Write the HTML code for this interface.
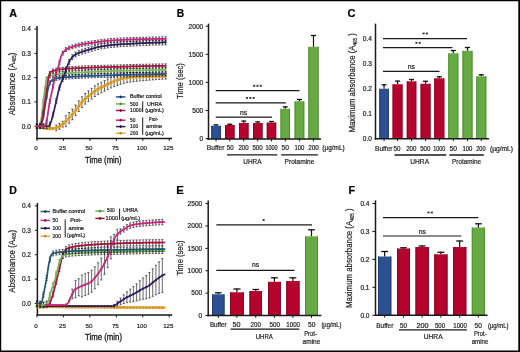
<!DOCTYPE html>
<html><head><meta charset="utf-8"><style>
html,body{margin:0;padding:0;background:#fff;}
svg{display:block;}
text{font-family:"Liberation Sans", sans-serif;}
svg{will-change:transform;}
</style></head><body>
<svg width="520" height="352" viewBox="0 0 520 352">
<rect width="520" height="352" fill="#fff"/>
<rect x="0" y="0" width="520" height="1.25" fill="#000"/>
<rect x="0" y="0" width="1.2" height="352" fill="#000"/>
<rect x="0" y="350.5" width="520" height="1.5" fill="#000"/>
<rect x="518.3" y="0" width="1.7" height="352" fill="#000"/>
<text x="9.2" y="16.7" font-size="11.29" stroke="#000" stroke-width="0.2" textLength="7.8" lengthAdjust="spacingAndGlyphs" font-weight="bold" fill="#000">A</text>
<text x="176.8" y="16.5" font-size="10.29" stroke="#000" stroke-width="0.2" textLength="7.4" lengthAdjust="spacingAndGlyphs" font-weight="bold" fill="#000">B</text>
<text x="347.5" y="17" font-size="10.29" stroke="#000" stroke-width="0.2" textLength="8" lengthAdjust="spacingAndGlyphs" font-weight="bold" fill="#000">C</text>
<text x="9.2" y="193.5" font-size="10.71" stroke="#000" stroke-width="0.2" textLength="7.6" lengthAdjust="spacingAndGlyphs" font-weight="bold" fill="#000">D</text>
<text x="176.2" y="193.5" font-size="10.71" stroke="#000" stroke-width="0.2" textLength="7.6" lengthAdjust="spacingAndGlyphs" font-weight="bold" fill="#000">E</text>
<text x="348.6" y="193.8" font-size="11.14" stroke="#000" stroke-width="0.2" textLength="6.6" lengthAdjust="spacingAndGlyphs" font-weight="bold" fill="#000">F</text>
<line x1="208.5" y1="23.6" x2="208.5" y2="139.75" stroke="#1a1a1a" stroke-width="1.5"/>
<line x1="205.6" y1="138.6" x2="208.5" y2="138.6" stroke="#1a1a1a" stroke-width="1.0"/>
<text x="203.2" y="140.9" font-size="6.57" stroke="#222" stroke-width="0.2" text-anchor="end" fill="#222">0</text>
<line x1="205.6" y1="110.5" x2="208.5" y2="110.5" stroke="#1a1a1a" stroke-width="1.0"/>
<text x="203.2" y="112.8" font-size="6.57" stroke="#222" stroke-width="0.2" text-anchor="end" fill="#222">500</text>
<line x1="205.6" y1="82.4" x2="208.5" y2="82.4" stroke="#1a1a1a" stroke-width="1.0"/>
<text x="203.2" y="84.7" font-size="6.57" stroke="#222" stroke-width="0.2" text-anchor="end" fill="#222">1000</text>
<line x1="205.6" y1="54.3" x2="208.5" y2="54.3" stroke="#1a1a1a" stroke-width="1.0"/>
<text x="203.2" y="56.6" font-size="6.57" stroke="#222" stroke-width="0.2" text-anchor="end" fill="#222">1500</text>
<line x1="205.6" y1="26.2" x2="208.5" y2="26.2" stroke="#1a1a1a" stroke-width="1.0"/>
<text x="203.2" y="28.5" font-size="6.57" stroke="#222" stroke-width="0.2" text-anchor="end" fill="#222">2000</text>
<rect x="211.3" y="125.8" width="9.5" height="13.2" fill="#2b5192"/>
<rect x="211.3" y="125.8" width="0.9" height="13.2" fill="#1c3a6e"/>
<rect x="219.9" y="125.8" width="0.9" height="13.2" fill="#1c3a6e"/>
<line x1="216.05" y1="124.4" x2="216.05" y2="125.8" stroke="#111" stroke-width="1.2"/>
<line x1="213.58" y1="124.9" x2="218.52" y2="124.9" stroke="#111" stroke-width="1.3"/>
<rect x="225" y="125" width="9.5" height="14" fill="#b4032d"/>
<rect x="225" y="125" width="0.9" height="14" fill="#82061f"/>
<rect x="233.6" y="125" width="0.9" height="14" fill="#82061f"/>
<line x1="229.75" y1="123.8" x2="229.75" y2="125" stroke="#111" stroke-width="1.2"/>
<line x1="227.28" y1="124.3" x2="232.22" y2="124.3" stroke="#111" stroke-width="1.3"/>
<rect x="239" y="123" width="9.5" height="16" fill="#b4032d"/>
<rect x="239" y="123" width="0.9" height="16" fill="#82061f"/>
<rect x="247.6" y="123" width="0.9" height="16" fill="#82061f"/>
<line x1="243.75" y1="120.6" x2="243.75" y2="123" stroke="#111" stroke-width="1.2"/>
<line x1="241.28" y1="121.1" x2="246.22" y2="121.1" stroke="#111" stroke-width="1.3"/>
<rect x="253" y="123" width="9.5" height="16" fill="#b4032d"/>
<rect x="253" y="123" width="0.9" height="16" fill="#82061f"/>
<rect x="261.6" y="123" width="0.9" height="16" fill="#82061f"/>
<line x1="257.75" y1="121.4" x2="257.75" y2="123" stroke="#111" stroke-width="1.2"/>
<line x1="255.28" y1="121.9" x2="260.22" y2="121.9" stroke="#111" stroke-width="1.3"/>
<rect x="266.8" y="122.5" width="9.4" height="16.5" fill="#b4032d"/>
<rect x="266.8" y="122.5" width="0.9" height="16.5" fill="#82061f"/>
<rect x="275.3" y="122.5" width="0.9" height="16.5" fill="#82061f"/>
<line x1="271.5" y1="121" x2="271.5" y2="122.5" stroke="#111" stroke-width="1.2"/>
<line x1="269.06" y1="121.5" x2="273.94" y2="121.5" stroke="#111" stroke-width="1.3"/>
<rect x="280.5" y="108.8" width="9.5" height="30.2" fill="#67a943"/>
<rect x="280.5" y="108.8" width="0.9" height="30.2" fill="#4d8a33"/>
<rect x="289.1" y="108.8" width="0.9" height="30.2" fill="#4d8a33"/>
<line x1="285.25" y1="106.4" x2="285.25" y2="108.8" stroke="#111" stroke-width="1.2"/>
<line x1="282.78" y1="106.9" x2="287.72" y2="106.9" stroke="#111" stroke-width="1.3"/>
<rect x="294.6" y="101.3" width="9.7" height="37.7" fill="#67a943"/>
<rect x="294.6" y="101.3" width="0.9" height="37.7" fill="#4d8a33"/>
<rect x="303.4" y="101.3" width="0.9" height="37.7" fill="#4d8a33"/>
<line x1="299.45" y1="99" x2="299.45" y2="101.3" stroke="#111" stroke-width="1.2"/>
<line x1="296.93" y1="99.5" x2="301.97" y2="99.5" stroke="#111" stroke-width="1.3"/>
<rect x="308.4" y="46.8" width="10.2" height="92.2" fill="#67a943"/>
<rect x="308.4" y="46.8" width="0.9" height="92.2" fill="#4d8a33"/>
<rect x="317.7" y="46.8" width="0.9" height="92.2" fill="#4d8a33"/>
<line x1="313.5" y1="35" x2="313.5" y2="46.8" stroke="#111" stroke-width="1.2"/>
<line x1="310.85" y1="35.5" x2="316.15" y2="35.5" stroke="#111" stroke-width="1.3"/>
<line x1="207.25" y1="139" x2="321" y2="139" stroke="#1a1a1a" stroke-width="1.5"/>
<line x1="216.05" y1="139" x2="216.05" y2="141.4" stroke="#1a1a1a" stroke-width="1.0"/>
<line x1="229.75" y1="139" x2="229.75" y2="141.4" stroke="#1a1a1a" stroke-width="1.0"/>
<line x1="243.75" y1="139" x2="243.75" y2="141.4" stroke="#1a1a1a" stroke-width="1.0"/>
<line x1="257.75" y1="139" x2="257.75" y2="141.4" stroke="#1a1a1a" stroke-width="1.0"/>
<line x1="271.5" y1="139" x2="271.5" y2="141.4" stroke="#1a1a1a" stroke-width="1.0"/>
<line x1="285.25" y1="139" x2="285.25" y2="141.4" stroke="#1a1a1a" stroke-width="1.0"/>
<line x1="299.45" y1="139" x2="299.45" y2="141.4" stroke="#1a1a1a" stroke-width="1.0"/>
<line x1="313.5" y1="139" x2="313.5" y2="141.4" stroke="#1a1a1a" stroke-width="1.0"/>
<line x1="215.7" y1="90.6" x2="299.5" y2="90.6" stroke="#1a1a1a" stroke-width="1.2"/>
<path d="M253.1,85.8H255.3M253.6,84.8L254.8,86.8M254.8,84.8L253.6,86.8" stroke="#1a1a1a" stroke-width="0.75"/>
<path d="M256.4,85.8H258.6M256.9,84.8L258.1,86.8M258.1,84.8L256.9,86.8" stroke="#1a1a1a" stroke-width="0.75"/>
<path d="M259.7,85.8H261.9M260.2,84.8L261.4,86.8M261.4,84.8L260.2,86.8" stroke="#1a1a1a" stroke-width="0.75"/>
<line x1="215.7" y1="102.8" x2="285.8" y2="102.8" stroke="#1a1a1a" stroke-width="1.2"/>
<path d="M245.9,98H248.1M246.4,97L247.6,99M247.6,97L246.4,99" stroke="#1a1a1a" stroke-width="0.75"/>
<path d="M249.2,98H251.4M249.7,97L250.9,99M250.9,97L249.7,99" stroke="#1a1a1a" stroke-width="0.75"/>
<path d="M252.5,98H254.7M253,97L254.2,99M254.2,97L253,99" stroke="#1a1a1a" stroke-width="0.75"/>
<line x1="215.7" y1="117.2" x2="272" y2="117.2" stroke="#1a1a1a" stroke-width="1.2"/>
<text x="243.7" y="115.2" font-size="6.8" stroke="#222" stroke-width="0.2" text-anchor="middle" fill="#222">ns</text>
<text x="206.8" y="150.25" font-size="6.71" stroke="#222" stroke-width="0.2" textLength="17.6" lengthAdjust="spacingAndGlyphs" fill="#222">Buffer</text>
<text x="226.8" y="150.25" font-size="6.71" stroke="#222" stroke-width="0.2" textLength="6.8" lengthAdjust="spacingAndGlyphs" fill="#222">50</text>
<text x="238.4" y="150.25" font-size="6.71" stroke="#222" stroke-width="0.2" textLength="10.2" lengthAdjust="spacingAndGlyphs" fill="#222">200</text>
<text x="252.4" y="150.25" font-size="6.71" stroke="#222" stroke-width="0.2" textLength="10.2" lengthAdjust="spacingAndGlyphs" fill="#222">500</text>
<text x="265.4" y="150.25" font-size="6.71" stroke="#222" stroke-width="0.2" textLength="12.2" lengthAdjust="spacingAndGlyphs" fill="#222">1000</text>
<text x="281.6" y="150.25" font-size="6.71" stroke="#222" stroke-width="0.2" textLength="7.4" lengthAdjust="spacingAndGlyphs" fill="#222">50</text>
<text x="294.4" y="150.25" font-size="6.71" stroke="#222" stroke-width="0.2" textLength="10" lengthAdjust="spacingAndGlyphs" fill="#222">100</text>
<text x="308.2" y="150.25" font-size="6.71" stroke="#222" stroke-width="0.2" textLength="10.5" lengthAdjust="spacingAndGlyphs" fill="#222">200</text>
<text x="322.3" y="150.25" font-size="6.71" stroke="#222" stroke-width="0.2" textLength="22.4" lengthAdjust="spacingAndGlyphs" fill="#222">(µg/mL)</text>
<line x1="227" y1="154.9" x2="277.3" y2="154.9" stroke="#1a1a1a" stroke-width="1.3"/>
<line x1="281.2" y1="154.9" x2="317.9" y2="154.9" stroke="#1a1a1a" stroke-width="1.3"/>
<text x="243.3" y="163.7" font-size="7.14" stroke="#222" stroke-width="0.2" textLength="18.2" lengthAdjust="spacingAndGlyphs" fill="#222">UHRA</text>
<text x="284.6" y="163.7" font-size="7.14" stroke="#222" stroke-width="0.2" textLength="29.8" lengthAdjust="spacingAndGlyphs" fill="#222">Protamine</text>
<text x="183" y="81" font-size="9.2" stroke="#222" stroke-width="0.2" textLength="35.8" lengthAdjust="spacingAndGlyphs" text-anchor="middle" transform="rotate(-90 183 81)" fill="#222">Time (sec)</text>
<line x1="375.5" y1="23.6" x2="375.5" y2="139.5" stroke="#1a1a1a" stroke-width="1.5"/>
<text x="371.9" y="141.05" font-size="6.57" stroke="#222" stroke-width="0.2" text-anchor="end" fill="#222">0.0</text>
<text x="371.9" y="116.05" font-size="6.57" stroke="#222" stroke-width="0.2" text-anchor="end" fill="#222">0.1</text>
<text x="371.9" y="91.05" font-size="6.57" stroke="#222" stroke-width="0.2" text-anchor="end" fill="#222">0.2</text>
<text x="371.9" y="66.05" font-size="6.57" stroke="#222" stroke-width="0.2" text-anchor="end" fill="#222">0.3</text>
<text x="371.9" y="41.05" font-size="6.57" stroke="#222" stroke-width="0.2" text-anchor="end" fill="#222">0.4</text>
<rect x="379.3" y="88.75" width="9.5" height="50" fill="#2b5192"/>
<rect x="379.3" y="88.75" width="0.9" height="50" fill="#1c3a6e"/>
<rect x="387.9" y="88.75" width="0.9" height="50" fill="#1c3a6e"/>
<line x1="384.05" y1="84.3" x2="384.05" y2="88.75" stroke="#111" stroke-width="1.2"/>
<line x1="381.58" y1="84.8" x2="386.52" y2="84.8" stroke="#111" stroke-width="1.3"/>
<rect x="392.6" y="84.3" width="9.9" height="54.45" fill="#b4032d"/>
<rect x="392.6" y="84.3" width="0.9" height="54.45" fill="#82061f"/>
<rect x="401.6" y="84.3" width="0.9" height="54.45" fill="#82061f"/>
<line x1="397.55" y1="80.6" x2="397.55" y2="84.3" stroke="#111" stroke-width="1.2"/>
<line x1="394.98" y1="81.1" x2="400.12" y2="81.1" stroke="#111" stroke-width="1.3"/>
<rect x="406.8" y="81.3" width="9.5" height="57.45" fill="#b4032d"/>
<rect x="406.8" y="81.3" width="0.9" height="57.45" fill="#82061f"/>
<rect x="415.4" y="81.3" width="0.9" height="57.45" fill="#82061f"/>
<line x1="411.55" y1="79" x2="411.55" y2="81.3" stroke="#111" stroke-width="1.2"/>
<line x1="409.08" y1="79.5" x2="414.02" y2="79.5" stroke="#111" stroke-width="1.3"/>
<rect x="420.6" y="83.8" width="9.9" height="54.95" fill="#b4032d"/>
<rect x="420.6" y="83.8" width="0.9" height="54.95" fill="#82061f"/>
<rect x="429.6" y="83.8" width="0.9" height="54.95" fill="#82061f"/>
<line x1="425.55" y1="80.8" x2="425.55" y2="83.8" stroke="#111" stroke-width="1.2"/>
<line x1="422.98" y1="81.3" x2="428.12" y2="81.3" stroke="#111" stroke-width="1.3"/>
<rect x="434.3" y="78.3" width="10" height="60.45" fill="#b4032d"/>
<rect x="434.3" y="78.3" width="0.9" height="60.45" fill="#82061f"/>
<rect x="443.4" y="78.3" width="0.9" height="60.45" fill="#82061f"/>
<line x1="439.3" y1="76.3" x2="439.3" y2="78.3" stroke="#111" stroke-width="1.2"/>
<line x1="436.7" y1="76.8" x2="441.9" y2="76.8" stroke="#111" stroke-width="1.3"/>
<rect x="448.3" y="53.3" width="10" height="85.45" fill="#67a943"/>
<rect x="448.3" y="53.3" width="0.9" height="85.45" fill="#4d8a33"/>
<rect x="457.4" y="53.3" width="0.9" height="85.45" fill="#4d8a33"/>
<line x1="453.3" y1="50" x2="453.3" y2="53.3" stroke="#111" stroke-width="1.2"/>
<line x1="450.7" y1="50.5" x2="455.9" y2="50.5" stroke="#111" stroke-width="1.3"/>
<rect x="462.5" y="50.8" width="10" height="87.95" fill="#67a943"/>
<rect x="462.5" y="50.8" width="0.9" height="87.95" fill="#4d8a33"/>
<rect x="471.6" y="50.8" width="0.9" height="87.95" fill="#4d8a33"/>
<line x1="467.5" y1="47" x2="467.5" y2="50.8" stroke="#111" stroke-width="1.2"/>
<line x1="464.9" y1="47.5" x2="470.1" y2="47.5" stroke="#111" stroke-width="1.3"/>
<rect x="476.3" y="76.3" width="10" height="62.45" fill="#67a943"/>
<rect x="476.3" y="76.3" width="0.9" height="62.45" fill="#4d8a33"/>
<rect x="485.4" y="76.3" width="0.9" height="62.45" fill="#4d8a33"/>
<line x1="481.3" y1="74.3" x2="481.3" y2="76.3" stroke="#111" stroke-width="1.2"/>
<line x1="478.7" y1="74.8" x2="483.9" y2="74.8" stroke="#111" stroke-width="1.3"/>
<line x1="374.55" y1="138.75" x2="489" y2="138.75" stroke="#1a1a1a" stroke-width="1.5"/>
<line x1="384.05" y1="138.75" x2="384.05" y2="141.15" stroke="#1a1a1a" stroke-width="1.0"/>
<line x1="397.55" y1="138.75" x2="397.55" y2="141.15" stroke="#1a1a1a" stroke-width="1.0"/>
<line x1="411.55" y1="138.75" x2="411.55" y2="141.15" stroke="#1a1a1a" stroke-width="1.0"/>
<line x1="425.55" y1="138.75" x2="425.55" y2="141.15" stroke="#1a1a1a" stroke-width="1.0"/>
<line x1="439.3" y1="138.75" x2="439.3" y2="141.15" stroke="#1a1a1a" stroke-width="1.0"/>
<line x1="453.3" y1="138.75" x2="453.3" y2="141.15" stroke="#1a1a1a" stroke-width="1.0"/>
<line x1="467.5" y1="138.75" x2="467.5" y2="141.15" stroke="#1a1a1a" stroke-width="1.0"/>
<line x1="481.3" y1="138.75" x2="481.3" y2="141.15" stroke="#1a1a1a" stroke-width="1.0"/>
<line x1="383" y1="38.6" x2="467" y2="38.6" stroke="#1a1a1a" stroke-width="1.2"/>
<path d="M422.45,33.5H424.65M422.95,32.5L424.15,34.5M424.15,32.5L422.95,34.5" stroke="#1a1a1a" stroke-width="0.75"/>
<path d="M425.75,33.5H427.95M426.25,32.5L427.45,34.5M427.45,32.5L426.25,34.5" stroke="#1a1a1a" stroke-width="0.75"/>
<line x1="383" y1="47.7" x2="452.5" y2="47.7" stroke="#1a1a1a" stroke-width="1.2"/>
<path d="M415.35,42.8H417.55M415.85,41.8L417.05,43.8M417.05,41.8L415.85,43.8" stroke="#1a1a1a" stroke-width="0.75"/>
<path d="M418.65,42.8H420.85M419.15,41.8L420.35,43.8M420.35,41.8L419.15,43.8" stroke="#1a1a1a" stroke-width="0.75"/>
<line x1="383" y1="71.4" x2="439.5" y2="71.4" stroke="#1a1a1a" stroke-width="1.2"/>
<text x="411.4" y="69" font-size="6.8" stroke="#222" stroke-width="0.2" text-anchor="middle" fill="#222">ns</text>
<text x="375" y="150.85" font-size="6.71" stroke="#222" stroke-width="0.2" textLength="17.5" lengthAdjust="spacingAndGlyphs" fill="#222">Buffer</text>
<text x="393.6" y="150.85" font-size="6.71" stroke="#222" stroke-width="0.2" textLength="7" lengthAdjust="spacingAndGlyphs" fill="#222">50</text>
<text x="406.2" y="150.85" font-size="6.71" stroke="#222" stroke-width="0.2" textLength="10.2" lengthAdjust="spacingAndGlyphs" fill="#222">200</text>
<text x="420.2" y="150.85" font-size="6.71" stroke="#222" stroke-width="0.2" textLength="10.2" lengthAdjust="spacingAndGlyphs" fill="#222">500</text>
<text x="433.2" y="150.85" font-size="6.71" stroke="#222" stroke-width="0.2" textLength="12.2" lengthAdjust="spacingAndGlyphs" fill="#222">1000</text>
<text x="449.6" y="150.85" font-size="6.71" stroke="#222" stroke-width="0.2" textLength="7.4" lengthAdjust="spacingAndGlyphs" fill="#222">50</text>
<text x="462.4" y="150.85" font-size="6.71" stroke="#222" stroke-width="0.2" textLength="10" lengthAdjust="spacingAndGlyphs" fill="#222">100</text>
<text x="476.2" y="150.85" font-size="6.71" stroke="#222" stroke-width="0.2" textLength="9.4" lengthAdjust="spacingAndGlyphs" fill="#222">200</text>
<text x="490" y="150.85" font-size="6.71" stroke="#222" stroke-width="0.2" textLength="23" lengthAdjust="spacingAndGlyphs" fill="#222">(µg/mL)</text>
<line x1="394.5" y1="155" x2="446.2" y2="155" stroke="#1a1a1a" stroke-width="1.3"/>
<line x1="449.3" y1="155" x2="483.8" y2="155" stroke="#1a1a1a" stroke-width="1.3"/>
<text x="410.3" y="164" font-size="7.14" stroke="#222" stroke-width="0.2" textLength="18.8" lengthAdjust="spacingAndGlyphs" fill="#222">UHRA</text>
<text x="452.1" y="164" font-size="7.14" stroke="#222" stroke-width="0.2" textLength="28.9" lengthAdjust="spacingAndGlyphs" fill="#222">Protamine</text>
<text x="355.5" y="82.8" font-size="8.3" stroke="#222" stroke-width="0.2" textLength="99.4" lengthAdjust="spacingAndGlyphs" text-anchor="middle" transform="rotate(-90 355.5 82.8)" fill="#222">Maximum absorbance (A<tspan font-size="4.8" dy="1.5">405</tspan><tspan dy="-1.5"> )</tspan></text>
<line x1="208.2" y1="200.6" x2="208.2" y2="316.25" stroke="#1a1a1a" stroke-width="1.5"/>
<line x1="205.4" y1="315.5" x2="208.2" y2="315.5" stroke="#1a1a1a" stroke-width="1.0"/>
<text x="202.2" y="317.8" font-size="6.57" stroke="#222" stroke-width="0.2" text-anchor="end" fill="#222">0</text>
<line x1="205.4" y1="293.12" x2="208.2" y2="293.12" stroke="#1a1a1a" stroke-width="1.0"/>
<text x="202.2" y="295.42" font-size="6.57" stroke="#222" stroke-width="0.2" text-anchor="end" fill="#222">500</text>
<line x1="205.4" y1="270.74" x2="208.2" y2="270.74" stroke="#1a1a1a" stroke-width="1.0"/>
<text x="202.2" y="273.04" font-size="6.57" stroke="#222" stroke-width="0.2" text-anchor="end" fill="#222">1000</text>
<line x1="205.4" y1="248.36" x2="208.2" y2="248.36" stroke="#1a1a1a" stroke-width="1.0"/>
<text x="202.2" y="250.66" font-size="6.57" stroke="#222" stroke-width="0.2" text-anchor="end" fill="#222">1500</text>
<line x1="205.4" y1="225.98" x2="208.2" y2="225.98" stroke="#1a1a1a" stroke-width="1.0"/>
<text x="202.2" y="228.28" font-size="6.57" stroke="#222" stroke-width="0.2" text-anchor="end" fill="#222">2000</text>
<line x1="205.4" y1="203.6" x2="208.2" y2="203.6" stroke="#1a1a1a" stroke-width="1.0"/>
<text x="202.2" y="205.9" font-size="6.57" stroke="#222" stroke-width="0.2" text-anchor="end" fill="#222">2500</text>
<rect x="212" y="294.3" width="12.5" height="21.2" fill="#2b5192"/>
<rect x="212" y="294.3" width="0.9" height="21.2" fill="#1c3a6e"/>
<rect x="223.6" y="294.3" width="0.9" height="21.2" fill="#1c3a6e"/>
<line x1="218.25" y1="292.3" x2="218.25" y2="294.3" stroke="#111" stroke-width="1.2"/>
<line x1="215" y1="292.8" x2="221.5" y2="292.8" stroke="#111" stroke-width="1.3"/>
<rect x="230" y="292.3" width="13.8" height="23.2" fill="#b4032d"/>
<rect x="230" y="292.3" width="0.9" height="23.2" fill="#82061f"/>
<rect x="242.9" y="292.3" width="0.9" height="23.2" fill="#82061f"/>
<line x1="236.9" y1="288.5" x2="236.9" y2="292.3" stroke="#111" stroke-width="1.2"/>
<line x1="233.31" y1="289" x2="240.49" y2="289" stroke="#111" stroke-width="1.3"/>
<rect x="249.5" y="291" width="12.5" height="24.5" fill="#b4032d"/>
<rect x="249.5" y="291" width="0.9" height="24.5" fill="#82061f"/>
<rect x="261.1" y="291" width="0.9" height="24.5" fill="#82061f"/>
<line x1="255.75" y1="289" x2="255.75" y2="291" stroke="#111" stroke-width="1.2"/>
<line x1="252.5" y1="289.5" x2="259" y2="289.5" stroke="#111" stroke-width="1.3"/>
<rect x="268" y="281.8" width="12.8" height="33.7" fill="#b4032d"/>
<rect x="268" y="281.8" width="0.9" height="33.7" fill="#82061f"/>
<rect x="279.9" y="281.8" width="0.9" height="33.7" fill="#82061f"/>
<line x1="274.4" y1="277.3" x2="274.4" y2="281.8" stroke="#111" stroke-width="1.2"/>
<line x1="271.07" y1="277.8" x2="277.73" y2="277.8" stroke="#111" stroke-width="1.3"/>
<rect x="286.3" y="281" width="13.2" height="34.5" fill="#b4032d"/>
<rect x="286.3" y="281" width="0.9" height="34.5" fill="#82061f"/>
<rect x="298.6" y="281" width="0.9" height="34.5" fill="#82061f"/>
<line x1="292.9" y1="277.3" x2="292.9" y2="281" stroke="#111" stroke-width="1.2"/>
<line x1="289.47" y1="277.8" x2="296.33" y2="277.8" stroke="#111" stroke-width="1.3"/>
<rect x="305" y="236.3" width="13" height="79.2" fill="#67a943"/>
<rect x="305" y="236.3" width="0.9" height="79.2" fill="#4d8a33"/>
<rect x="317.1" y="236.3" width="0.9" height="79.2" fill="#4d8a33"/>
<line x1="311.5" y1="229.3" x2="311.5" y2="236.3" stroke="#111" stroke-width="1.2"/>
<line x1="308.12" y1="229.8" x2="314.88" y2="229.8" stroke="#111" stroke-width="1.3"/>
<line x1="207.25" y1="315.5" x2="321.3" y2="315.5" stroke="#1a1a1a" stroke-width="1.5"/>
<line x1="218.25" y1="315.5" x2="218.25" y2="317.9" stroke="#1a1a1a" stroke-width="1.0"/>
<line x1="236.9" y1="315.5" x2="236.9" y2="317.9" stroke="#1a1a1a" stroke-width="1.0"/>
<line x1="255.75" y1="315.5" x2="255.75" y2="317.9" stroke="#1a1a1a" stroke-width="1.0"/>
<line x1="274.4" y1="315.5" x2="274.4" y2="317.9" stroke="#1a1a1a" stroke-width="1.0"/>
<line x1="292.9" y1="315.5" x2="292.9" y2="317.9" stroke="#1a1a1a" stroke-width="1.0"/>
<line x1="311.5" y1="315.5" x2="311.5" y2="317.9" stroke="#1a1a1a" stroke-width="1.0"/>
<line x1="216.3" y1="224.9" x2="312" y2="224.9" stroke="#1a1a1a" stroke-width="1.2"/>
<path d="M262.5,220.1H264.7M263,219.1L264.2,221.1M264.2,219.1L263,221.1" stroke="#1a1a1a" stroke-width="0.75"/>
<line x1="216.3" y1="270.4" x2="294.5" y2="270.4" stroke="#1a1a1a" stroke-width="1.2"/>
<text x="255.7" y="267.2" font-size="6.8" stroke="#222" stroke-width="0.2" text-anchor="middle" fill="#222">ns</text>
<text x="209.9" y="326.75" font-size="6.71" stroke="#222" stroke-width="0.2" textLength="16.7" lengthAdjust="spacingAndGlyphs" fill="#222">Buffer</text>
<text x="232.5" y="326.75" font-size="6.71" stroke="#222" stroke-width="0.2" textLength="8" lengthAdjust="spacingAndGlyphs" fill="#222">50</text>
<text x="250.6" y="326.75" font-size="6.71" stroke="#222" stroke-width="0.2" textLength="10.2" lengthAdjust="spacingAndGlyphs" fill="#222">200</text>
<text x="269.5" y="326.75" font-size="6.71" stroke="#222" stroke-width="0.2" textLength="10.5" lengthAdjust="spacingAndGlyphs" fill="#222">500</text>
<text x="286.3" y="326.75" font-size="6.71" stroke="#222" stroke-width="0.2" textLength="13.7" lengthAdjust="spacingAndGlyphs" fill="#222">1000</text>
<text x="308" y="326.75" font-size="6.71" stroke="#222" stroke-width="0.2" textLength="7.5" lengthAdjust="spacingAndGlyphs" fill="#222">50</text>
<text x="321.4" y="326.75" font-size="6.71" stroke="#222" stroke-width="0.2" textLength="20.1" lengthAdjust="spacingAndGlyphs" fill="#222">(µg/mL)</text>
<line x1="230.6" y1="329.2" x2="299.3" y2="329.2" stroke="#1a1a1a" stroke-width="1.3"/>
<text x="255.7" y="338.5" font-size="7.14" stroke="#222" stroke-width="0.2" textLength="17.2" lengthAdjust="spacingAndGlyphs" fill="#222">UHRA</text>
<text x="304.2" y="335.75" font-size="7" stroke="#222" stroke-width="0.2" textLength="12.7" lengthAdjust="spacingAndGlyphs" fill="#222">Prot-</text>
<text x="302.6" y="343.85" font-size="7" stroke="#222" stroke-width="0.2" textLength="17.8" lengthAdjust="spacingAndGlyphs" fill="#222">amine</text>
<text x="182.7" y="258" font-size="9.2" stroke="#222" stroke-width="0.2" textLength="35.2" lengthAdjust="spacingAndGlyphs" text-anchor="middle" transform="rotate(-90 182.7 258)" fill="#222">Time (sec)</text>
<line x1="375.5" y1="200.4" x2="375.5" y2="316" stroke="#1a1a1a" stroke-width="1.5"/>
<line x1="372.3" y1="315.25" x2="375.5" y2="315.25" stroke="#1a1a1a" stroke-width="1.0"/>
<text x="369.5" y="317.55" font-size="6.57" stroke="#222" stroke-width="0.2" text-anchor="end" fill="#222">0.0</text>
<line x1="372.3" y1="287.31" x2="375.5" y2="287.31" stroke="#1a1a1a" stroke-width="1.0"/>
<text x="369.5" y="289.61" font-size="6.57" stroke="#222" stroke-width="0.2" text-anchor="end" fill="#222">0.1</text>
<line x1="372.3" y1="259.37" x2="375.5" y2="259.37" stroke="#1a1a1a" stroke-width="1.0"/>
<text x="369.5" y="261.67" font-size="6.57" stroke="#222" stroke-width="0.2" text-anchor="end" fill="#222">0.2</text>
<line x1="372.3" y1="231.43" x2="375.5" y2="231.43" stroke="#1a1a1a" stroke-width="1.0"/>
<text x="369.5" y="233.73" font-size="6.57" stroke="#222" stroke-width="0.2" text-anchor="end" fill="#222">0.3</text>
<line x1="372.3" y1="203.49" x2="375.5" y2="203.49" stroke="#1a1a1a" stroke-width="1.0"/>
<text x="369.5" y="205.79" font-size="6.57" stroke="#222" stroke-width="0.2" text-anchor="end" fill="#222">0.4</text>
<rect x="378" y="256.5" width="13.3" height="58.75" fill="#2b5192"/>
<rect x="378" y="256.5" width="0.9" height="58.75" fill="#1c3a6e"/>
<rect x="390.4" y="256.5" width="0.9" height="58.75" fill="#1c3a6e"/>
<line x1="384.65" y1="251" x2="384.65" y2="256.5" stroke="#111" stroke-width="1.2"/>
<line x1="381.19" y1="251.5" x2="388.11" y2="251.5" stroke="#111" stroke-width="1.3"/>
<rect x="397" y="248.5" width="13" height="66.75" fill="#b4032d"/>
<rect x="397" y="248.5" width="0.9" height="66.75" fill="#82061f"/>
<rect x="409.1" y="248.5" width="0.9" height="66.75" fill="#82061f"/>
<line x1="403.5" y1="247.3" x2="403.5" y2="248.5" stroke="#111" stroke-width="1.2"/>
<line x1="400.12" y1="247.8" x2="406.88" y2="247.8" stroke="#111" stroke-width="1.3"/>
<rect x="415.5" y="247" width="13.3" height="68.25" fill="#b4032d"/>
<rect x="415.5" y="247" width="0.9" height="68.25" fill="#82061f"/>
<rect x="427.9" y="247" width="0.9" height="68.25" fill="#82061f"/>
<line x1="422.15" y1="245.5" x2="422.15" y2="247" stroke="#111" stroke-width="1.2"/>
<line x1="418.69" y1="246" x2="425.61" y2="246" stroke="#111" stroke-width="1.3"/>
<rect x="434.3" y="254.3" width="13.2" height="60.95" fill="#b4032d"/>
<rect x="434.3" y="254.3" width="0.9" height="60.95" fill="#82061f"/>
<rect x="446.6" y="254.3" width="0.9" height="60.95" fill="#82061f"/>
<line x1="440.9" y1="251.8" x2="440.9" y2="254.3" stroke="#111" stroke-width="1.2"/>
<line x1="437.47" y1="252.3" x2="444.33" y2="252.3" stroke="#111" stroke-width="1.3"/>
<rect x="453" y="247" width="13.3" height="68.25" fill="#b4032d"/>
<rect x="453" y="247" width="0.9" height="68.25" fill="#82061f"/>
<rect x="465.4" y="247" width="0.9" height="68.25" fill="#82061f"/>
<line x1="459.65" y1="240.5" x2="459.65" y2="247" stroke="#111" stroke-width="1.2"/>
<line x1="456.19" y1="241" x2="463.11" y2="241" stroke="#111" stroke-width="1.3"/>
<rect x="471.8" y="227.5" width="13.2" height="87.75" fill="#67a943"/>
<rect x="471.8" y="227.5" width="0.9" height="87.75" fill="#4d8a33"/>
<rect x="484.1" y="227.5" width="0.9" height="87.75" fill="#4d8a33"/>
<line x1="478.4" y1="223.3" x2="478.4" y2="227.5" stroke="#111" stroke-width="1.2"/>
<line x1="474.97" y1="223.8" x2="481.83" y2="223.8" stroke="#111" stroke-width="1.3"/>
<line x1="374.75" y1="315.25" x2="487.5" y2="315.25" stroke="#1a1a1a" stroke-width="1.5"/>
<line x1="384.65" y1="315.25" x2="384.65" y2="317.65" stroke="#1a1a1a" stroke-width="1.0"/>
<line x1="403.5" y1="315.25" x2="403.5" y2="317.65" stroke="#1a1a1a" stroke-width="1.0"/>
<line x1="422.15" y1="315.25" x2="422.15" y2="317.65" stroke="#1a1a1a" stroke-width="1.0"/>
<line x1="440.9" y1="315.25" x2="440.9" y2="317.65" stroke="#1a1a1a" stroke-width="1.0"/>
<line x1="459.65" y1="315.25" x2="459.65" y2="317.65" stroke="#1a1a1a" stroke-width="1.0"/>
<line x1="478.4" y1="315.25" x2="478.4" y2="317.65" stroke="#1a1a1a" stroke-width="1.0"/>
<line x1="383" y1="217.6" x2="478.3" y2="217.6" stroke="#1a1a1a" stroke-width="1.2"/>
<path d="M427.35,212.5H429.55M427.85,211.5L429.05,213.5M429.05,211.5L427.85,213.5" stroke="#1a1a1a" stroke-width="0.75"/>
<path d="M430.65,212.5H432.85M431.15,211.5L432.35,213.5M432.35,211.5L431.15,213.5" stroke="#1a1a1a" stroke-width="0.75"/>
<line x1="383" y1="236" x2="461.3" y2="236" stroke="#1a1a1a" stroke-width="1.2"/>
<text x="422.3" y="233.5" font-size="6.8" stroke="#222" stroke-width="0.2" text-anchor="middle" fill="#222">ns</text>
<text x="376.3" y="327.55" font-size="6.71" stroke="#222" stroke-width="0.2" textLength="17" lengthAdjust="spacingAndGlyphs" fill="#222">Buffer</text>
<text x="400" y="327.55" font-size="6.71" stroke="#222" stroke-width="0.2" textLength="7" lengthAdjust="spacingAndGlyphs" fill="#222">50</text>
<text x="416.5" y="327.55" font-size="6.71" stroke="#222" stroke-width="0.2" textLength="12.1" lengthAdjust="spacingAndGlyphs" fill="#222">200</text>
<text x="435" y="327.55" font-size="6.71" stroke="#222" stroke-width="0.2" textLength="10" lengthAdjust="spacingAndGlyphs" fill="#222">500</text>
<text x="453.3" y="327.55" font-size="6.71" stroke="#222" stroke-width="0.2" textLength="13.5" lengthAdjust="spacingAndGlyphs" fill="#222">1000</text>
<text x="474.5" y="327.55" font-size="6.71" stroke="#222" stroke-width="0.2" textLength="7.3" lengthAdjust="spacingAndGlyphs" fill="#222">50</text>
<text x="487.9" y="327.55" font-size="6.71" stroke="#222" stroke-width="0.2" textLength="20.6" lengthAdjust="spacingAndGlyphs" fill="#222">(µg/mL)</text>
<line x1="399" y1="329.8" x2="466.9" y2="329.8" stroke="#1a1a1a" stroke-width="1.3"/>
<text x="423.8" y="339.1" font-size="7.14" stroke="#222" stroke-width="0.2" textLength="18.8" lengthAdjust="spacingAndGlyphs" fill="#222">UHRA</text>
<text x="473.9" y="336.35" font-size="7" stroke="#222" stroke-width="0.2" textLength="12.7" lengthAdjust="spacingAndGlyphs" fill="#222">Prot-</text>
<text x="471.7" y="343.85" font-size="7" stroke="#222" stroke-width="0.2" textLength="16.7" lengthAdjust="spacingAndGlyphs" fill="#222">amine</text>
<text x="352.5" y="258.2" font-size="8.3" stroke="#222" stroke-width="0.2" textLength="99.5" lengthAdjust="spacingAndGlyphs" text-anchor="middle" transform="rotate(-90 352.5 258.2)" fill="#222">Maximum absorbance (A<tspan font-size="4.8" dy="1.5">405</tspan><tspan dy="-1.5"> )</tspan></text>
<line x1="37" y1="26" x2="37" y2="139.25" stroke="#1a1a1a" stroke-width="1.5"/>
<line x1="34.4" y1="126.25" x2="37" y2="126.25" stroke="#1a1a1a" stroke-width="1.0"/>
<text x="30.8" y="128.55" font-size="6.57" stroke="#222" stroke-width="0.2" text-anchor="end" fill="#222">0.0</text>
<line x1="34.4" y1="101.95" x2="37" y2="101.95" stroke="#1a1a1a" stroke-width="1.0"/>
<text x="30.8" y="104.25" font-size="6.57" stroke="#222" stroke-width="0.2" text-anchor="end" fill="#222">0.1</text>
<line x1="34.4" y1="77.65" x2="37" y2="77.65" stroke="#1a1a1a" stroke-width="1.0"/>
<text x="30.8" y="79.95" font-size="6.57" stroke="#222" stroke-width="0.2" text-anchor="end" fill="#222">0.2</text>
<line x1="34.4" y1="53.35" x2="37" y2="53.35" stroke="#1a1a1a" stroke-width="1.0"/>
<text x="30.8" y="55.65" font-size="6.57" stroke="#222" stroke-width="0.2" text-anchor="end" fill="#222">0.3</text>
<line x1="34.4" y1="29.05" x2="37" y2="29.05" stroke="#1a1a1a" stroke-width="1.0"/>
<text x="30.8" y="31.35" font-size="6.57" stroke="#222" stroke-width="0.2" text-anchor="end" fill="#222">0.4</text>
<line x1="36.25" y1="138.5" x2="172" y2="138.5" stroke="#1a1a1a" stroke-width="1.5"/>
<line x1="37" y1="138.5" x2="37" y2="140.9" stroke="#1a1a1a" stroke-width="1.0"/>
<line x1="63.46" y1="138.5" x2="63.46" y2="140.9" stroke="#1a1a1a" stroke-width="1.0"/>
<line x1="89.92" y1="138.5" x2="89.92" y2="140.9" stroke="#1a1a1a" stroke-width="1.0"/>
<line x1="116.38" y1="138.5" x2="116.38" y2="140.9" stroke="#1a1a1a" stroke-width="1.0"/>
<line x1="142.84" y1="138.5" x2="142.84" y2="140.9" stroke="#1a1a1a" stroke-width="1.0"/>
<line x1="169.3" y1="138.5" x2="169.3" y2="140.9" stroke="#1a1a1a" stroke-width="1.0"/>
<text x="36" y="150.45" font-size="6.14" stroke="#222" stroke-width="0.2" text-anchor="middle" fill="#222">0</text>
<text x="62.46" y="150.45" font-size="6.14" stroke="#222" stroke-width="0.2" text-anchor="middle" fill="#222">25</text>
<text x="88.92" y="150.45" font-size="6.14" stroke="#222" stroke-width="0.2" text-anchor="middle" fill="#222">50</text>
<text x="115.38" y="150.45" font-size="6.14" stroke="#222" stroke-width="0.2" text-anchor="middle" fill="#222">75</text>
<text x="141.84" y="150.45" font-size="6.14" stroke="#222" stroke-width="0.2" text-anchor="middle" fill="#222">100</text>
<text x="168.3" y="150.45" font-size="6.14" stroke="#222" stroke-width="0.2" text-anchor="middle" fill="#222">125</text>
<text x="85.1" y="162.8" font-size="9.43" stroke="#222" stroke-width="0.35" textLength="36.6" lengthAdjust="spacingAndGlyphs" fill="#222">Time (min)</text>
<text x="14.9" y="84" font-size="9.2" stroke="#222" stroke-width="0.2" textLength="62.7" lengthAdjust="spacingAndGlyphs" text-anchor="middle" transform="rotate(-90 14.9 84)" fill="#222">Absorbance (A<tspan font-size="5.0" dy="1.6">405</tspan><tspan dy="-1.6">)</tspan></text>
<path d="M37,125.52V126.98M35.9,125.52H38.1M35.9,126.98H38.1M40.21,126.3V127.76M39.11,126.3H41.31M39.11,127.76H41.31M43.43,126.97V128.43M42.33,126.97H44.53M42.33,128.43H44.53M46.64,127.64V129.1M45.54,127.64H47.74M45.54,129.1H47.74M49.86,127.95V129.41M48.76,127.95H50.96M48.76,129.41H50.96M53.07,127.73V129.19M51.97,127.73H54.17M51.97,129.19H54.17M56.29,124.97V130.8M55.19,124.97H57.39M55.19,130.8H57.39M59.5,123.52V129.36M58.4,123.52H60.6M58.4,129.36H60.6M62.72,121.25V127.08M61.62,121.25H63.82M61.62,127.08H63.82M65.93,115.75V126.44M64.83,115.75H67.03M64.83,126.44H67.03M69.15,112.54V123.23M68.05,112.54H70.25M68.05,123.23H70.25M72.36,108.98V119.68M71.26,108.98H73.46M71.26,119.68H73.46M75.58,104.98V115.67M74.48,104.98H76.68M74.48,115.67H76.68M78.79,100.84V111.53M77.69,100.84H79.89M77.69,111.53H79.89M82.01,96.75V107.44M80.91,96.75H83.11M80.91,107.44H83.11M85.22,93.46V104.15M84.12,93.46H86.32M84.12,104.15H86.32M88.44,90.87V101.56M87.34,90.87H89.54M87.34,101.56H89.54M91.65,88.35V99.04M90.55,88.35H92.75M90.55,99.04H92.75M94.87,85.82V96.51M93.77,85.82H95.97M93.77,96.51H95.97M98.08,83.71V94.41M96.98,83.71H99.18M96.98,94.41H99.18M101.3,82.1V92.8M100.2,82.1H102.4M100.2,92.8H102.4M104.51,80.55V91.24M103.41,80.55H105.61M103.41,91.24H105.61M107.73,78.85V89.54M106.63,78.85H108.83M106.63,89.54H108.83M110.94,77.28V87.98M109.84,77.28H112.04M109.84,87.98H112.04M114.16,75.91V86.6M113.06,75.91H115.26M113.06,86.6H115.26M117.37,74.8V85.4M116.27,74.8H118.47M116.27,85.4H118.47M120.59,74.01V84.27M119.49,74.01H121.69M119.49,84.27H121.69M123.8,73.33V83.27M122.7,73.33H124.9M122.7,83.27H124.9M127.02,72.91V82.53M125.92,72.91H128.12M125.92,82.53H128.12M130.23,72.75V82.04M129.13,72.75H131.33M129.13,82.04H131.33M133.45,72.66V81.63M132.35,72.66H134.55M132.35,81.63H134.55M136.66,72.62V81.26M135.56,72.62H137.76M135.56,81.26H137.76M139.88,72.63V80.95M138.78,72.63H140.98M138.78,80.95H140.98M143.09,72.67V80.67M141.99,72.67H144.19M141.99,80.67H144.19M146.31,72.73V80.4M145.21,72.73H147.41M145.21,80.4H147.41M149.52,72.8V80.14M148.42,72.8H150.62M148.42,80.14H150.62M152.74,72.87V79.89M151.64,72.87H153.84M151.64,79.89H153.84M155.95,72.96V79.65M154.85,72.96H157.05M154.85,79.65H157.05M159.17,73.06V79.43M158.07,73.06H160.27M158.07,79.43H160.27M162.38,73.19V79.23M161.28,73.19H163.48M161.28,79.23H163.48M165.6,73.33V79.05M164.5,73.33H166.7M164.5,79.05H166.7" stroke="#1a1a1a" stroke-width="0.65" fill="none"/>
<path d="M37,126.25 L37.54,126.39 L38.08,126.52 L38.61,126.65 L39.15,126.78 L39.69,126.91 L40.23,127.03 L40.77,127.15 L41.3,127.27 L41.84,127.38 L42.38,127.48 L42.92,127.59 L43.46,127.71 L43.99,127.82 L44.53,127.94 L45.07,128.06 L45.61,128.17 L46.15,128.28 L46.69,128.38 L47.22,128.47 L47.76,128.55 L48.3,128.61 L48.84,128.65 L49.38,128.68 L49.91,128.68 L50.45,128.67 L50.99,128.64 L51.53,128.61 L52.07,128.56 L52.6,128.51 L53.14,128.45 L53.68,128.38 L54.22,128.31 L54.76,128.23 L55.29,128.14 L55.83,128.02 L56.37,127.86 L56.91,127.67 L57.45,127.45 L57.98,127.21 L58.52,126.95 L59.06,126.67 L59.6,126.39 L60.14,126.1 L60.67,125.76 L61.21,125.39 L61.75,124.98 L62.29,124.54 L62.83,124.07 L63.36,123.58 L63.9,123.08 L64.44,122.56 L64.98,122.03 L65.52,121.5 L66.06,120.98 L66.59,120.46 L67.13,119.94 L67.67,119.41 L68.21,118.87 L68.75,118.31 L69.28,117.75 L69.82,117.17 L70.36,116.59 L70.9,115.99 L71.44,115.39 L71.97,114.78 L72.51,114.16 L73.05,113.53 L73.59,112.87 L74.13,112.2 L74.66,111.51 L75.2,110.82 L75.74,110.12 L76.28,109.41 L76.82,108.71 L77.35,108.01 L77.89,107.32 L78.43,106.64 L78.97,105.96 L79.51,105.27 L80.04,104.58 L80.58,103.88 L81.12,103.2 L81.66,102.52 L82.2,101.87 L82.73,101.25 L83.27,100.66 L83.81,100.12 L84.35,99.6 L84.89,99.11 L85.43,98.63 L85.96,98.17 L86.5,97.73 L87.04,97.3 L87.58,96.88 L88.12,96.46 L88.65,96.05 L89.19,95.63 L89.73,95.22 L90.27,94.8 L90.81,94.38 L91.34,93.95 L91.88,93.51 L92.42,93.08 L92.96,92.65 L93.5,92.22 L94.03,91.8 L94.57,91.38 L95.11,90.98 L95.65,90.59 L96.19,90.22 L96.72,89.87 L97.26,89.53 L97.8,89.22 L98.34,88.92 L98.88,88.63 L99.41,88.36 L99.95,88.09 L100.49,87.83 L101.03,87.58 L101.57,87.32 L102.1,87.07 L102.64,86.82 L103.18,86.56 L103.72,86.29 L104.26,86.02 L104.8,85.74 L105.33,85.46 L105.87,85.18 L106.41,84.89 L106.95,84.61 L107.49,84.32 L108.02,84.04 L108.56,83.76 L109.1,83.49 L109.64,83.23 L110.18,82.98 L110.71,82.73 L111.25,82.49 L111.79,82.26 L112.33,82.02 L112.87,81.79 L113.4,81.56 L113.94,81.34 L114.48,81.12 L115.02,80.92 L115.56,80.71 L116.09,80.52 L116.63,80.34 L117.17,80.16 L117.71,80 L118.25,79.84 L118.78,79.67 L119.32,79.51 L119.86,79.35 L120.4,79.2 L120.94,79.04 L121.47,78.89 L122.01,78.75 L122.55,78.61 L123.09,78.47 L123.63,78.34 L124.17,78.22 L124.7,78.11 L125.24,78 L125.78,77.9 L126.32,77.82 L126.86,77.74 L127.39,77.67 L127.93,77.62 L128.47,77.56 L129.01,77.51 L129.55,77.46 L130.08,77.41 L130.62,77.36 L131.16,77.32 L131.7,77.27 L132.24,77.23 L132.77,77.19 L133.31,77.15 L133.85,77.12 L134.39,77.08 L134.93,77.04 L135.46,77.01 L136,76.98 L136.54,76.95 L137.08,76.92 L137.62,76.89 L138.15,76.87 L138.69,76.84 L139.23,76.82 L139.77,76.79 L140.31,76.77 L140.84,76.75 L141.38,76.73 L141.92,76.71 L142.46,76.69 L143,76.67 L143.54,76.66 L144.07,76.64 L144.61,76.62 L145.15,76.6 L145.69,76.59 L146.23,76.57 L146.76,76.55 L147.3,76.54 L147.84,76.52 L148.38,76.5 L148.92,76.49 L149.45,76.47 L149.99,76.46 L150.53,76.44 L151.07,76.43 L151.61,76.41 L152.14,76.4 L152.68,76.38 L153.22,76.37 L153.76,76.36 L154.3,76.34 L154.83,76.33 L155.37,76.32 L155.91,76.31 L156.45,76.3 L156.99,76.29 L157.52,76.28 L158.06,76.27 L158.6,76.26 L159.14,76.25 L159.68,76.24 L160.22,76.23 L160.75,76.23 L161.29,76.22 L161.83,76.21 L162.37,76.21 L162.91,76.2 L163.44,76.2 L163.98,76.2 L164.52,76.2 L165.06,76.19 L165.6,76.19" stroke="#e6ac3a" stroke-width="3.0" fill="none"/>
<circle cx="37" cy="126.25" r="1.1" fill="#c89020"/>
<circle cx="40.21" cy="127.03" r="1.1" fill="#c89020"/>
<circle cx="43.43" cy="127.7" r="1.1" fill="#c89020"/>
<circle cx="46.64" cy="128.37" r="1.1" fill="#c89020"/>
<circle cx="49.86" cy="128.68" r="1.1" fill="#c89020"/>
<circle cx="53.07" cy="128.46" r="1.1" fill="#c89020"/>
<circle cx="56.29" cy="127.88" r="1.1" fill="#c89020"/>
<circle cx="59.5" cy="126.44" r="1.1" fill="#c89020"/>
<circle cx="62.72" cy="124.17" r="1.1" fill="#c89020"/>
<circle cx="65.93" cy="121.1" r="1.1" fill="#c89020"/>
<circle cx="69.15" cy="117.89" r="1.1" fill="#c89020"/>
<circle cx="72.36" cy="114.33" r="1.1" fill="#c89020"/>
<circle cx="75.58" cy="110.33" r="1.1" fill="#c89020"/>
<circle cx="78.79" cy="106.19" r="1.1" fill="#c89020"/>
<circle cx="82.01" cy="102.1" r="1.1" fill="#c89020"/>
<circle cx="85.22" cy="98.81" r="1.1" fill="#c89020"/>
<circle cx="88.44" cy="96.21" r="1.1" fill="#c89020"/>
<circle cx="91.65" cy="93.7" r="1.1" fill="#c89020"/>
<circle cx="94.87" cy="91.16" r="1.1" fill="#c89020"/>
<circle cx="98.08" cy="89.06" r="1.1" fill="#c89020"/>
<circle cx="101.3" cy="87.45" r="1.1" fill="#c89020"/>
<circle cx="104.51" cy="85.89" r="1.1" fill="#c89020"/>
<circle cx="107.73" cy="84.19" r="1.1" fill="#c89020"/>
<circle cx="110.94" cy="82.63" r="1.1" fill="#c89020"/>
<circle cx="114.16" cy="81.25" r="1.1" fill="#c89020"/>
<circle cx="117.37" cy="80.1" r="1.1" fill="#c89020"/>
<circle cx="120.59" cy="79.14" r="1.1" fill="#c89020"/>
<circle cx="123.8" cy="78.3" r="1.1" fill="#c89020"/>
<circle cx="127.02" cy="77.72" r="1.1" fill="#c89020"/>
<circle cx="130.23" cy="77.4" r="1.1" fill="#c89020"/>
<circle cx="133.45" cy="77.14" r="1.1" fill="#c89020"/>
<circle cx="136.66" cy="76.94" r="1.1" fill="#c89020"/>
<circle cx="139.88" cy="76.79" r="1.1" fill="#c89020"/>
<circle cx="143.09" cy="76.67" r="1.1" fill="#c89020"/>
<circle cx="146.31" cy="76.57" r="1.1" fill="#c89020"/>
<circle cx="149.52" cy="76.47" r="1.1" fill="#c89020"/>
<circle cx="152.74" cy="76.38" r="1.1" fill="#c89020"/>
<circle cx="155.95" cy="76.31" r="1.1" fill="#c89020"/>
<circle cx="159.17" cy="76.25" r="1.1" fill="#c89020"/>
<circle cx="162.38" cy="76.21" r="1.1" fill="#c89020"/>
<circle cx="165.6" cy="76.19" r="1.1" fill="#c89020"/>
<path d="M37,124.31V128.19M35.9,124.31H38.1M35.9,128.19H38.1M40.21,124.31V128.19M39.11,124.31H41.31M39.11,128.19H41.31M43.43,114.22V118.1M42.33,114.22H44.53M42.33,118.1H44.53M46.64,94.51V98.39M45.54,94.51H47.74M45.54,98.39H47.74M49.86,80.86V84.75M48.76,80.86H50.96M48.76,84.75H50.96M53.07,77.79V81.68M51.97,77.79H54.17M51.97,81.68H54.17M56.29,76.56V80.45M55.19,76.56H57.39M55.19,80.45H57.39M59.5,76V79.89M58.4,76H60.6M58.4,79.89H60.6M62.72,75.6V79.49M61.62,75.6H63.82M61.62,79.49H63.82M65.93,75.29V79.18M64.83,75.29H67.03M64.83,79.18H67.03M69.15,75.05V78.93M68.05,75.05H70.25M68.05,78.93H70.25M72.36,74.85V78.74M71.26,74.85H73.46M71.26,78.74H73.46M75.58,74.68V78.57M74.48,74.68H76.68M74.48,78.57H76.68M78.79,74.52V78.41M77.69,74.52H79.89M77.69,78.41H79.89M82.01,74.36V78.25M80.91,74.36H83.11M80.91,78.25H83.11M85.22,74.21V78.1M84.12,74.21H86.32M84.12,78.1H86.32M88.44,74.08V77.96M87.34,74.08H89.54M87.34,77.96H89.54M91.65,73.95V77.84M90.55,73.95H92.75M90.55,77.84H92.75M94.87,73.83V77.72M93.77,73.83H95.97M93.77,77.72H95.97M98.08,73.72V77.6M96.98,73.72H99.18M96.98,77.6H99.18M101.3,73.61V77.5M100.2,73.61H102.4M100.2,77.5H102.4M104.51,73.51V77.4M103.41,73.51H105.61M103.41,77.4H105.61M107.73,73.42V77.3M106.63,73.42H108.83M106.63,77.3H108.83M110.94,73.32V77.21M109.84,73.32H112.04M109.84,77.21H112.04M114.16,73.24V77.12M113.06,73.24H115.26M113.06,77.12H115.26M117.37,73.15V77.04M116.27,73.15H118.47M116.27,77.04H118.47M120.59,73.06V76.95M119.49,73.06H121.69M119.49,76.95H121.69M123.8,72.98V76.86M122.7,72.98H124.9M122.7,76.86H124.9M127.02,72.89V76.78M125.92,72.89H128.12M125.92,76.78H128.12M130.23,72.81V76.7M129.13,72.81H131.33M129.13,76.7H131.33M133.45,72.73V76.62M132.35,72.73H134.55M132.35,76.62H134.55M136.66,72.65V76.54M135.56,72.65H137.76M135.56,76.54H137.76M139.88,72.58V76.46M138.78,72.58H140.98M138.78,76.46H140.98M143.09,72.5V76.39M141.99,72.5H144.19M141.99,76.39H144.19M146.31,72.43V76.32M145.21,72.43H147.41M145.21,76.32H147.41M149.52,72.36V76.25M148.42,72.36H150.62M148.42,76.25H150.62M152.74,72.3V76.19M151.64,72.3H153.84M151.64,76.19H153.84M155.95,72.24V76.12M154.85,72.24H157.05M154.85,76.12H157.05M159.17,72.18V76.06M158.07,72.18H160.27M158.07,76.06H160.27M162.38,72.12V76.01M161.28,72.12H163.48M161.28,76.01H163.48M165.6,72.07V75.96M164.5,72.07H166.7M164.5,75.96H166.7" stroke="#1a1a1a" stroke-width="0.65" fill="none"/>
<path d="M37,126.25 L37.54,126.25 L38.08,126.25 L38.61,126.25 L39.15,126.25 L39.69,126.25 L40.23,126.25 L40.77,126.24 L41.3,125.46 L41.84,123.67 L42.38,121.26 L42.92,118.6 L43.46,116.03 L43.99,113.14 L44.53,109.81 L45.07,106.23 L45.61,102.64 L46.15,99.24 L46.69,96.23 L47.22,93.28 L47.76,90.41 L48.3,87.81 L48.84,85.67 L49.38,84.06 L49.91,82.68 L50.45,81.65 L50.99,81.11 L51.53,80.7 L52.07,80.33 L52.6,80 L53.14,79.7 L53.68,79.43 L54.22,79.19 L54.76,78.98 L55.29,78.79 L55.83,78.63 L56.37,78.49 L56.91,78.36 L57.45,78.26 L57.98,78.16 L58.52,78.08 L59.06,78 L59.6,77.93 L60.14,77.86 L60.67,77.79 L61.21,77.72 L61.75,77.66 L62.29,77.59 L62.83,77.54 L63.36,77.48 L63.9,77.42 L64.44,77.37 L64.98,77.32 L65.52,77.27 L66.06,77.23 L66.59,77.18 L67.13,77.14 L67.67,77.1 L68.21,77.06 L68.75,77.02 L69.28,76.98 L69.82,76.94 L70.36,76.91 L70.9,76.88 L71.44,76.84 L71.97,76.81 L72.51,76.78 L73.05,76.75 L73.59,76.72 L74.13,76.7 L74.66,76.67 L75.2,76.64 L75.74,76.61 L76.28,76.59 L76.82,76.56 L77.35,76.53 L77.89,76.51 L78.43,76.48 L78.97,76.45 L79.51,76.43 L80.04,76.4 L80.58,76.37 L81.12,76.35 L81.66,76.32 L82.2,76.3 L82.73,76.27 L83.27,76.25 L83.81,76.22 L84.35,76.2 L84.89,76.17 L85.43,76.15 L85.96,76.12 L86.5,76.1 L87.04,76.08 L87.58,76.06 L88.12,76.03 L88.65,76.01 L89.19,75.99 L89.73,75.97 L90.27,75.95 L90.81,75.93 L91.34,75.9 L91.88,75.88 L92.42,75.86 L92.96,75.84 L93.5,75.82 L94.03,75.8 L94.57,75.78 L95.11,75.76 L95.65,75.74 L96.19,75.73 L96.72,75.71 L97.26,75.69 L97.8,75.67 L98.34,75.65 L98.88,75.63 L99.41,75.62 L99.95,75.6 L100.49,75.58 L101.03,75.56 L101.57,75.55 L102.1,75.53 L102.64,75.51 L103.18,75.5 L103.72,75.48 L104.26,75.46 L104.8,75.45 L105.33,75.43 L105.87,75.41 L106.41,75.4 L106.95,75.38 L107.49,75.37 L108.02,75.35 L108.56,75.34 L109.1,75.32 L109.64,75.31 L110.18,75.29 L110.71,75.27 L111.25,75.26 L111.79,75.24 L112.33,75.23 L112.87,75.21 L113.4,75.2 L113.94,75.19 L114.48,75.17 L115.02,75.16 L115.56,75.14 L116.09,75.13 L116.63,75.11 L117.17,75.1 L117.71,75.08 L118.25,75.07 L118.78,75.05 L119.32,75.04 L119.86,75.03 L120.4,75.01 L120.94,75 L121.47,74.98 L122.01,74.97 L122.55,74.95 L123.09,74.94 L123.63,74.92 L124.17,74.91 L124.7,74.9 L125.24,74.88 L125.78,74.87 L126.32,74.85 L126.86,74.84 L127.39,74.83 L127.93,74.81 L128.47,74.8 L129.01,74.78 L129.55,74.77 L130.08,74.76 L130.62,74.74 L131.16,74.73 L131.7,74.72 L132.24,74.7 L132.77,74.69 L133.31,74.68 L133.85,74.66 L134.39,74.65 L134.93,74.64 L135.46,74.62 L136,74.61 L136.54,74.6 L137.08,74.59 L137.62,74.57 L138.15,74.56 L138.69,74.55 L139.23,74.53 L139.77,74.52 L140.31,74.51 L140.84,74.5 L141.38,74.48 L141.92,74.47 L142.46,74.46 L143,74.45 L143.54,74.44 L144.07,74.42 L144.61,74.41 L145.15,74.4 L145.69,74.39 L146.23,74.38 L146.76,74.37 L147.3,74.35 L147.84,74.34 L148.38,74.33 L148.92,74.32 L149.45,74.31 L149.99,74.3 L150.53,74.29 L151.07,74.28 L151.61,74.26 L152.14,74.25 L152.68,74.24 L153.22,74.23 L153.76,74.22 L154.3,74.21 L154.83,74.2 L155.37,74.19 L155.91,74.18 L156.45,74.17 L156.99,74.16 L157.52,74.15 L158.06,74.14 L158.6,74.13 L159.14,74.12 L159.68,74.11 L160.22,74.1 L160.75,74.09 L161.29,74.08 L161.83,74.07 L162.37,74.07 L162.91,74.06 L163.44,74.05 L163.98,74.04 L164.52,74.03 L165.06,74.02 L165.6,74.01" stroke="#24528e" stroke-width="1.7" fill="none"/>
<circle cx="37" cy="126.25" r="1.1" fill="#24528e"/>
<circle cx="40.21" cy="126.25" r="1.1" fill="#24528e"/>
<circle cx="43.43" cy="116.16" r="1.1" fill="#24528e"/>
<circle cx="46.64" cy="96.45" r="1.1" fill="#24528e"/>
<circle cx="49.86" cy="82.8" r="1.1" fill="#24528e"/>
<circle cx="53.07" cy="79.73" r="1.1" fill="#24528e"/>
<circle cx="56.29" cy="78.51" r="1.1" fill="#24528e"/>
<circle cx="59.5" cy="77.94" r="1.1" fill="#24528e"/>
<circle cx="62.72" cy="77.55" r="1.1" fill="#24528e"/>
<circle cx="65.93" cy="77.24" r="1.1" fill="#24528e"/>
<circle cx="69.15" cy="76.99" r="1.1" fill="#24528e"/>
<circle cx="72.36" cy="76.79" r="1.1" fill="#24528e"/>
<circle cx="75.58" cy="76.62" r="1.1" fill="#24528e"/>
<circle cx="78.79" cy="76.46" r="1.1" fill="#24528e"/>
<circle cx="82.01" cy="76.3" r="1.1" fill="#24528e"/>
<circle cx="85.22" cy="76.16" r="1.1" fill="#24528e"/>
<circle cx="88.44" cy="76.02" r="1.1" fill="#24528e"/>
<circle cx="91.65" cy="75.89" r="1.1" fill="#24528e"/>
<circle cx="94.87" cy="75.77" r="1.1" fill="#24528e"/>
<circle cx="98.08" cy="75.66" r="1.1" fill="#24528e"/>
<circle cx="101.3" cy="75.56" r="1.1" fill="#24528e"/>
<circle cx="104.51" cy="75.46" r="1.1" fill="#24528e"/>
<circle cx="107.73" cy="75.36" r="1.1" fill="#24528e"/>
<circle cx="110.94" cy="75.27" r="1.1" fill="#24528e"/>
<circle cx="114.16" cy="75.18" r="1.1" fill="#24528e"/>
<circle cx="117.37" cy="75.09" r="1.1" fill="#24528e"/>
<circle cx="120.59" cy="75.01" r="1.1" fill="#24528e"/>
<circle cx="123.8" cy="74.92" r="1.1" fill="#24528e"/>
<circle cx="127.02" cy="74.84" r="1.1" fill="#24528e"/>
<circle cx="130.23" cy="74.75" r="1.1" fill="#24528e"/>
<circle cx="133.45" cy="74.67" r="1.1" fill="#24528e"/>
<circle cx="136.66" cy="74.6" r="1.1" fill="#24528e"/>
<circle cx="139.88" cy="74.52" r="1.1" fill="#24528e"/>
<circle cx="143.09" cy="74.45" r="1.1" fill="#24528e"/>
<circle cx="146.31" cy="74.38" r="1.1" fill="#24528e"/>
<circle cx="149.52" cy="74.31" r="1.1" fill="#24528e"/>
<circle cx="152.74" cy="74.24" r="1.1" fill="#24528e"/>
<circle cx="155.95" cy="74.18" r="1.1" fill="#24528e"/>
<circle cx="159.17" cy="74.12" r="1.1" fill="#24528e"/>
<circle cx="162.38" cy="74.07" r="1.1" fill="#24528e"/>
<circle cx="165.6" cy="74.01" r="1.1" fill="#24528e"/>
<path d="M37,124.31V128.19M35.9,124.31H38.1M35.9,128.19H38.1M40.21,122.92V126.81M39.11,122.92H41.31M39.11,126.81H41.31M43.43,99.36V103.25M42.33,99.36H44.53M42.33,103.25H44.53M46.64,77.22V81.11M45.54,77.22H47.74M45.54,81.11H47.74M49.86,73.96V77.85M48.76,73.96H50.96M48.76,77.85H50.96M53.07,73.15V77.04M51.97,73.15H54.17M51.97,77.04H54.17M56.29,72.56V76.44M55.19,72.56H57.39M55.19,76.44H57.39M59.5,72.12V76.01M58.4,72.12H60.6M58.4,76.01H60.6M62.72,71.8V75.68M61.62,71.8H63.82M61.62,75.68H63.82M65.93,71.54V75.43M64.83,71.54H67.03M64.83,75.43H67.03M69.15,71.3V75.19M68.05,71.3H70.25M68.05,75.19H70.25M72.36,71.07V74.96M71.26,71.07H73.46M71.26,74.96H73.46M75.58,70.85V74.74M74.48,70.85H76.68M74.48,74.74H76.68M78.79,70.65V74.54M77.69,70.65H79.89M77.69,74.54H79.89M82.01,70.46V74.35M80.91,70.46H83.11M80.91,74.35H83.11M85.22,70.29V74.18M84.12,70.29H86.32M84.12,74.18H86.32M88.44,70.12V74.01M87.34,70.12H89.54M87.34,74.01H89.54M91.65,69.97V73.86M90.55,69.97H92.75M90.55,73.86H92.75M94.87,69.83V73.72M93.77,69.83H95.97M93.77,73.72H95.97M98.08,69.69V73.58M96.98,69.69H99.18M96.98,73.58H99.18M101.3,69.57V73.46M100.2,69.57H102.4M100.2,73.46H102.4M104.51,69.45V73.34M103.41,69.45H105.61M103.41,73.34H105.61M107.73,69.34V73.23M106.63,69.34H108.83M106.63,73.23H108.83M110.94,69.23V73.12M109.84,69.23H112.04M109.84,73.12H112.04M114.16,69.13V73.02M113.06,69.13H115.26M113.06,73.02H115.26M117.37,69.03V72.92M116.27,69.03H118.47M116.27,72.92H118.47M120.59,68.93V72.82M119.49,68.93H121.69M119.49,72.82H121.69M123.8,68.84V72.73M122.7,68.84H124.9M122.7,72.73H124.9M127.02,68.75V72.64M125.92,68.75H128.12M125.92,72.64H128.12M130.23,68.66V72.55M129.13,68.66H131.33M129.13,72.55H131.33M133.45,68.57V72.46M132.35,68.57H134.55M132.35,72.46H134.55M136.66,68.49V72.38M135.56,68.49H137.76M135.56,72.38H137.76M139.88,68.41V72.3M138.78,68.41H140.98M138.78,72.3H140.98M143.09,68.33V72.22M141.99,68.33H144.19M141.99,72.22H144.19M146.31,68.26V72.15M145.21,68.26H147.41M145.21,72.15H147.41M149.52,68.19V72.08M148.42,68.19H150.62M148.42,72.08H150.62M152.74,68.13V72.02M151.64,68.13H153.84M151.64,72.02H153.84M155.95,68.07V71.96M154.85,68.07H157.05M154.85,71.96H157.05M159.17,68.02V71.91M158.07,68.02H160.27M158.07,71.91H160.27M162.38,67.98V71.86M161.28,67.98H163.48M161.28,71.86H163.48M165.6,67.94V71.82M164.5,67.94H166.7M164.5,71.82H166.7" stroke="#1a1a1a" stroke-width="0.65" fill="none"/>
<path d="M37,126.25 L37.54,126.25 L38.08,126.25 L38.61,126.25 L39.15,126.25 L39.69,126.24 L40.23,124.81 L40.77,121.82 L41.3,118.54 L41.84,114.77 L42.38,110.29 L42.92,105.58 L43.46,101.08 L43.99,96.43 L44.53,91.71 L45.07,87.46 L45.61,84.16 L46.15,81.29 L46.69,79.03 L47.22,77.9 L47.76,77.23 L48.3,76.72 L48.84,76.33 L49.38,76.06 L49.91,75.89 L50.45,75.74 L50.99,75.59 L51.53,75.46 L52.07,75.32 L52.6,75.2 L53.14,75.08 L53.68,74.97 L54.22,74.86 L54.76,74.76 L55.29,74.66 L55.83,74.57 L56.37,74.49 L56.91,74.4 L57.45,74.33 L57.98,74.25 L58.52,74.18 L59.06,74.12 L59.6,74.05 L60.14,73.99 L60.67,73.94 L61.21,73.88 L61.75,73.83 L62.29,73.78 L62.83,73.73 L63.36,73.69 L63.9,73.64 L64.44,73.6 L64.98,73.56 L65.52,73.52 L66.06,73.48 L66.59,73.44 L67.13,73.4 L67.67,73.36 L68.21,73.32 L68.75,73.28 L69.28,73.24 L69.82,73.2 L70.36,73.16 L70.9,73.12 L71.44,73.08 L71.97,73.04 L72.51,73 L73.05,72.97 L73.59,72.93 L74.13,72.89 L74.66,72.86 L75.2,72.82 L75.74,72.79 L76.28,72.75 L76.82,72.72 L77.35,72.69 L77.89,72.65 L78.43,72.62 L78.97,72.59 L79.51,72.55 L80.04,72.52 L80.58,72.49 L81.12,72.46 L81.66,72.43 L82.2,72.4 L82.73,72.37 L83.27,72.34 L83.81,72.31 L84.35,72.28 L84.89,72.25 L85.43,72.22 L85.96,72.19 L86.5,72.17 L87.04,72.14 L87.58,72.11 L88.12,72.08 L88.65,72.06 L89.19,72.03 L89.73,72.01 L90.27,71.98 L90.81,71.95 L91.34,71.93 L91.88,71.91 L92.42,71.88 L92.96,71.86 L93.5,71.83 L94.03,71.81 L94.57,71.79 L95.11,71.76 L95.65,71.74 L96.19,71.72 L96.72,71.69 L97.26,71.67 L97.8,71.65 L98.34,71.63 L98.88,71.61 L99.41,71.59 L99.95,71.56 L100.49,71.54 L101.03,71.52 L101.57,71.5 L102.1,71.48 L102.64,71.46 L103.18,71.44 L103.72,71.42 L104.26,71.4 L104.8,71.38 L105.33,71.36 L105.87,71.35 L106.41,71.33 L106.95,71.31 L107.49,71.29 L108.02,71.27 L108.56,71.25 L109.1,71.24 L109.64,71.22 L110.18,71.2 L110.71,71.18 L111.25,71.16 L111.79,71.15 L112.33,71.13 L112.87,71.11 L113.4,71.1 L113.94,71.08 L114.48,71.06 L115.02,71.05 L115.56,71.03 L116.09,71.01 L116.63,71 L117.17,70.98 L117.71,70.96 L118.25,70.95 L118.78,70.93 L119.32,70.92 L119.86,70.9 L120.4,70.88 L120.94,70.87 L121.47,70.85 L122.01,70.84 L122.55,70.82 L123.09,70.8 L123.63,70.79 L124.17,70.77 L124.7,70.76 L125.24,70.74 L125.78,70.73 L126.32,70.71 L126.86,70.7 L127.39,70.68 L127.93,70.67 L128.47,70.65 L129.01,70.64 L129.55,70.62 L130.08,70.61 L130.62,70.59 L131.16,70.58 L131.7,70.56 L132.24,70.55 L132.77,70.53 L133.31,70.52 L133.85,70.51 L134.39,70.49 L134.93,70.48 L135.46,70.46 L136,70.45 L136.54,70.44 L137.08,70.42 L137.62,70.41 L138.15,70.39 L138.69,70.38 L139.23,70.37 L139.77,70.35 L140.31,70.34 L140.84,70.33 L141.38,70.32 L141.92,70.3 L142.46,70.29 L143,70.28 L143.54,70.27 L144.07,70.25 L144.61,70.24 L145.15,70.23 L145.69,70.22 L146.23,70.21 L146.76,70.19 L147.3,70.18 L147.84,70.17 L148.38,70.16 L148.92,70.15 L149.45,70.14 L149.99,70.13 L150.53,70.12 L151.07,70.11 L151.61,70.1 L152.14,70.09 L152.68,70.07 L153.22,70.06 L153.76,70.06 L154.3,70.05 L154.83,70.04 L155.37,70.03 L155.91,70.02 L156.45,70.01 L156.99,70 L157.52,69.99 L158.06,69.98 L158.6,69.97 L159.14,69.97 L159.68,69.96 L160.22,69.95 L160.75,69.94 L161.29,69.93 L161.83,69.93 L162.37,69.92 L162.91,69.91 L163.44,69.91 L163.98,69.9 L164.52,69.89 L165.06,69.89 L165.6,69.88" stroke="#7cb45a" stroke-width="1.7" fill="none"/>
<circle cx="37" cy="126.25" r="1.1" fill="#7cb45a"/>
<circle cx="40.21" cy="124.87" r="1.1" fill="#7cb45a"/>
<circle cx="43.43" cy="101.3" r="1.1" fill="#7cb45a"/>
<circle cx="46.64" cy="79.16" r="1.1" fill="#7cb45a"/>
<circle cx="49.86" cy="75.9" r="1.1" fill="#7cb45a"/>
<circle cx="53.07" cy="75.1" r="1.1" fill="#7cb45a"/>
<circle cx="56.29" cy="74.5" r="1.1" fill="#7cb45a"/>
<circle cx="59.5" cy="74.06" r="1.1" fill="#7cb45a"/>
<circle cx="62.72" cy="73.74" r="1.1" fill="#7cb45a"/>
<circle cx="65.93" cy="73.48" r="1.1" fill="#7cb45a"/>
<circle cx="69.15" cy="73.25" r="1.1" fill="#7cb45a"/>
<circle cx="72.36" cy="73.01" r="1.1" fill="#7cb45a"/>
<circle cx="75.58" cy="72.8" r="1.1" fill="#7cb45a"/>
<circle cx="78.79" cy="72.6" r="1.1" fill="#7cb45a"/>
<circle cx="82.01" cy="72.41" r="1.1" fill="#7cb45a"/>
<circle cx="85.22" cy="72.23" r="1.1" fill="#7cb45a"/>
<circle cx="88.44" cy="72.07" r="1.1" fill="#7cb45a"/>
<circle cx="91.65" cy="71.92" r="1.1" fill="#7cb45a"/>
<circle cx="94.87" cy="71.77" r="1.1" fill="#7cb45a"/>
<circle cx="98.08" cy="71.64" r="1.1" fill="#7cb45a"/>
<circle cx="101.3" cy="71.51" r="1.1" fill="#7cb45a"/>
<circle cx="104.51" cy="71.39" r="1.1" fill="#7cb45a"/>
<circle cx="107.73" cy="71.28" r="1.1" fill="#7cb45a"/>
<circle cx="110.94" cy="71.17" r="1.1" fill="#7cb45a"/>
<circle cx="114.16" cy="71.07" r="1.1" fill="#7cb45a"/>
<circle cx="117.37" cy="70.97" r="1.1" fill="#7cb45a"/>
<circle cx="120.59" cy="70.88" r="1.1" fill="#7cb45a"/>
<circle cx="123.8" cy="70.78" r="1.1" fill="#7cb45a"/>
<circle cx="127.02" cy="70.69" r="1.1" fill="#7cb45a"/>
<circle cx="130.23" cy="70.6" r="1.1" fill="#7cb45a"/>
<circle cx="133.45" cy="70.52" r="1.1" fill="#7cb45a"/>
<circle cx="136.66" cy="70.43" r="1.1" fill="#7cb45a"/>
<circle cx="139.88" cy="70.35" r="1.1" fill="#7cb45a"/>
<circle cx="143.09" cy="70.28" r="1.1" fill="#7cb45a"/>
<circle cx="146.31" cy="70.2" r="1.1" fill="#7cb45a"/>
<circle cx="149.52" cy="70.14" r="1.1" fill="#7cb45a"/>
<circle cx="152.74" cy="70.07" r="1.1" fill="#7cb45a"/>
<circle cx="155.95" cy="70.02" r="1.1" fill="#7cb45a"/>
<circle cx="159.17" cy="69.96" r="1.1" fill="#7cb45a"/>
<circle cx="162.38" cy="69.92" r="1.1" fill="#7cb45a"/>
<circle cx="165.6" cy="69.88" r="1.1" fill="#7cb45a"/>
<path d="M37,124.31V128.19M35.9,124.31H38.1M35.9,128.19H38.1M40.21,124.3V128.19M39.11,124.3H41.31M39.11,128.19H41.31M43.43,110.5V114.39M42.33,110.5H44.53M42.33,114.39H44.53M46.64,88.02V91.91M45.54,88.02H47.74M45.54,91.91H47.74M49.86,71.43V75.32M48.76,71.43H50.96M48.76,75.32H50.96M53.07,68.98V72.87M51.97,68.98H54.17M51.97,72.87H54.17M56.29,68.14V72.03M55.19,68.14H57.39M55.19,72.03H57.39M59.5,67.57V71.46M58.4,67.57H60.6M58.4,71.46H60.6M62.72,67.18V71.07M61.62,67.18H63.82M61.62,71.07H63.82M65.93,66.91V70.8M64.83,66.91H67.03M64.83,70.8H67.03M69.15,66.69V70.58M68.05,66.69H70.25M68.05,70.58H70.25M72.36,66.49V70.37M71.26,66.49H73.46M71.26,70.37H73.46M75.58,66.3V70.19M74.48,66.3H76.68M74.48,70.19H76.68M78.79,66.13V70.02M77.69,66.13H79.89M77.69,70.02H79.89M82.01,65.98V69.87M80.91,65.98H83.11M80.91,69.87H83.11M85.22,65.84V69.73M84.12,65.84H86.32M84.12,69.73H86.32M88.44,65.72V69.6M87.34,65.72H89.54M87.34,69.6H89.54M91.65,65.6V69.49M90.55,65.6H92.75M90.55,69.49H92.75M94.87,65.49V69.38M93.77,65.49H95.97M93.77,69.38H95.97M98.08,65.39V69.28M96.98,65.39H99.18M96.98,69.28H99.18M101.3,65.3V69.19M100.2,65.3H102.4M100.2,69.19H102.4M104.51,65.21V69.1M103.41,65.21H105.61M103.41,69.1H105.61M107.73,65.13V69.02M106.63,65.13H108.83M106.63,69.02H108.83M110.94,65.05V68.94M109.84,65.05H112.04M109.84,68.94H112.04M114.16,64.97V68.85M113.06,64.97H115.26M113.06,68.85H115.26M117.37,64.88V68.77M116.27,64.88H118.47M116.27,68.77H118.47M120.59,64.8V68.69M119.49,64.8H121.69M119.49,68.69H121.69M123.8,64.71V68.6M122.7,64.71H124.9M122.7,68.6H124.9M127.02,64.63V68.52M125.92,64.63H128.12M125.92,68.52H128.12M130.23,64.54V68.43M129.13,64.54H131.33M129.13,68.43H131.33M133.45,64.46V68.35M132.35,64.46H134.55M132.35,68.35H134.55M136.66,64.39V68.27M135.56,64.39H137.76M135.56,68.27H137.76M139.88,64.31V68.2M138.78,64.31H140.98M138.78,68.2H140.98M143.09,64.24V68.12M141.99,64.24H144.19M141.99,68.12H144.19M146.31,64.16V68.05M145.21,64.16H147.41M145.21,68.05H147.41M149.52,64.1V67.99M148.42,64.1H150.62M148.42,67.99H150.62M152.74,64.03V67.92M151.64,64.03H153.84M151.64,67.92H153.84M155.95,63.97V67.86M154.85,63.97H157.05M154.85,67.86H157.05M159.17,63.91V67.8M158.07,63.91H160.27M158.07,67.8H160.27M162.38,63.86V67.75M161.28,63.86H163.48M161.28,67.75H163.48M165.6,63.81V67.7M164.5,63.81H166.7M164.5,67.7H166.7" stroke="#1a1a1a" stroke-width="0.65" fill="none"/>
<path d="M37,126.25 L37.54,126.25 L38.08,126.25 L38.61,126.25 L39.15,126.25 L39.69,126.25 L40.23,126.24 L40.77,125.39 L41.3,123.49 L41.84,121.04 L42.38,118.56 L42.92,115.68 L43.46,112.26 L43.99,108.53 L44.53,104.72 L45.07,101.06 L45.61,97.33 L46.15,93.49 L46.69,89.68 L47.22,86.03 L47.76,82.59 L48.3,78.96 L48.84,75.88 L49.38,74.3 L49.91,73.28 L50.45,72.47 L50.99,71.86 L51.53,71.46 L52.07,71.25 L52.6,71.07 L53.14,70.9 L53.68,70.74 L54.22,70.59 L54.76,70.45 L55.29,70.32 L55.83,70.19 L56.37,70.07 L56.91,69.96 L57.45,69.85 L57.98,69.76 L58.52,69.66 L59.06,69.58 L59.6,69.5 L60.14,69.42 L60.67,69.35 L61.21,69.29 L61.75,69.22 L62.29,69.17 L62.83,69.11 L63.36,69.06 L63.9,69.01 L64.44,68.97 L64.98,68.92 L65.52,68.88 L66.06,68.84 L66.59,68.8 L67.13,68.77 L67.67,68.73 L68.21,68.7 L68.75,68.66 L69.28,68.62 L69.82,68.59 L70.36,68.55 L70.9,68.52 L71.44,68.49 L71.97,68.45 L72.51,68.42 L73.05,68.39 L73.59,68.36 L74.13,68.33 L74.66,68.3 L75.2,68.27 L75.74,68.24 L76.28,68.21 L76.82,68.18 L77.35,68.15 L77.89,68.12 L78.43,68.1 L78.97,68.07 L79.51,68.04 L80.04,68.02 L80.58,67.99 L81.12,67.97 L81.66,67.94 L82.2,67.92 L82.73,67.89 L83.27,67.87 L83.81,67.85 L84.35,67.82 L84.89,67.8 L85.43,67.78 L85.96,67.76 L86.5,67.73 L87.04,67.71 L87.58,67.69 L88.12,67.67 L88.65,67.65 L89.19,67.63 L89.73,67.61 L90.27,67.59 L90.81,67.57 L91.34,67.55 L91.88,67.54 L92.42,67.52 L92.96,67.5 L93.5,67.48 L94.03,67.46 L94.57,67.45 L95.11,67.43 L95.65,67.41 L96.19,67.4 L96.72,67.38 L97.26,67.36 L97.8,67.35 L98.34,67.33 L98.88,67.31 L99.41,67.3 L99.95,67.28 L100.49,67.27 L101.03,67.25 L101.57,67.24 L102.1,67.22 L102.64,67.21 L103.18,67.19 L103.72,67.18 L104.26,67.16 L104.8,67.15 L105.33,67.14 L105.87,67.12 L106.41,67.11 L106.95,67.09 L107.49,67.08 L108.02,67.07 L108.56,67.05 L109.1,67.04 L109.64,67.03 L110.18,67.01 L110.71,67 L111.25,66.98 L111.79,66.97 L112.33,66.96 L112.87,66.94 L113.4,66.93 L113.94,66.92 L114.48,66.9 L115.02,66.89 L115.56,66.88 L116.09,66.86 L116.63,66.85 L117.17,66.83 L117.71,66.82 L118.25,66.81 L118.78,66.79 L119.32,66.78 L119.86,66.76 L120.4,66.75 L120.94,66.73 L121.47,66.72 L122.01,66.71 L122.55,66.69 L123.09,66.68 L123.63,66.66 L124.17,66.65 L124.7,66.63 L125.24,66.62 L125.78,66.6 L126.32,66.59 L126.86,66.58 L127.39,66.56 L127.93,66.55 L128.47,66.53 L129.01,66.52 L129.55,66.51 L130.08,66.49 L130.62,66.48 L131.16,66.47 L131.7,66.45 L132.24,66.44 L132.77,66.42 L133.31,66.41 L133.85,66.4 L134.39,66.38 L134.93,66.37 L135.46,66.36 L136,66.35 L136.54,66.33 L137.08,66.32 L137.62,66.31 L138.15,66.29 L138.69,66.28 L139.23,66.27 L139.77,66.26 L140.31,66.24 L140.84,66.23 L141.38,66.22 L141.92,66.21 L142.46,66.19 L143,66.18 L143.54,66.17 L144.07,66.16 L144.61,66.15 L145.15,66.13 L145.69,66.12 L146.23,66.11 L146.76,66.1 L147.3,66.09 L147.84,66.08 L148.38,66.06 L148.92,66.05 L149.45,66.04 L149.99,66.03 L150.53,66.02 L151.07,66.01 L151.61,66 L152.14,65.99 L152.68,65.98 L153.22,65.97 L153.76,65.96 L154.3,65.95 L154.83,65.94 L155.37,65.93 L155.91,65.92 L156.45,65.91 L156.99,65.9 L157.52,65.89 L158.06,65.88 L158.6,65.87 L159.14,65.86 L159.68,65.85 L160.22,65.84 L160.75,65.83 L161.29,65.82 L161.83,65.81 L162.37,65.8 L162.91,65.79 L163.44,65.78 L163.98,65.78 L164.52,65.77 L165.06,65.76 L165.6,65.75" stroke="#a8143e" stroke-width="1.7" fill="none"/>
<circle cx="37" cy="126.25" r="1.1" fill="#a8143e"/>
<circle cx="40.21" cy="126.25" r="1.1" fill="#a8143e"/>
<circle cx="43.43" cy="112.44" r="1.1" fill="#a8143e"/>
<circle cx="46.64" cy="89.96" r="1.1" fill="#a8143e"/>
<circle cx="49.86" cy="73.38" r="1.1" fill="#a8143e"/>
<circle cx="53.07" cy="70.92" r="1.1" fill="#a8143e"/>
<circle cx="56.29" cy="70.09" r="1.1" fill="#a8143e"/>
<circle cx="59.5" cy="69.51" r="1.1" fill="#a8143e"/>
<circle cx="62.72" cy="69.12" r="1.1" fill="#a8143e"/>
<circle cx="65.93" cy="68.85" r="1.1" fill="#a8143e"/>
<circle cx="69.15" cy="68.63" r="1.1" fill="#a8143e"/>
<circle cx="72.36" cy="68.43" r="1.1" fill="#a8143e"/>
<circle cx="75.58" cy="68.25" r="1.1" fill="#a8143e"/>
<circle cx="78.79" cy="68.08" r="1.1" fill="#a8143e"/>
<circle cx="82.01" cy="67.92" r="1.1" fill="#a8143e"/>
<circle cx="85.22" cy="67.79" r="1.1" fill="#a8143e"/>
<circle cx="88.44" cy="67.66" r="1.1" fill="#a8143e"/>
<circle cx="91.65" cy="67.54" r="1.1" fill="#a8143e"/>
<circle cx="94.87" cy="67.44" r="1.1" fill="#a8143e"/>
<circle cx="98.08" cy="67.34" r="1.1" fill="#a8143e"/>
<circle cx="101.3" cy="67.25" r="1.1" fill="#a8143e"/>
<circle cx="104.51" cy="67.16" r="1.1" fill="#a8143e"/>
<circle cx="107.73" cy="67.07" r="1.1" fill="#a8143e"/>
<circle cx="110.94" cy="66.99" r="1.1" fill="#a8143e"/>
<circle cx="114.16" cy="66.91" r="1.1" fill="#a8143e"/>
<circle cx="117.37" cy="66.83" r="1.1" fill="#a8143e"/>
<circle cx="120.59" cy="66.74" r="1.1" fill="#a8143e"/>
<circle cx="123.8" cy="66.66" r="1.1" fill="#a8143e"/>
<circle cx="127.02" cy="66.57" r="1.1" fill="#a8143e"/>
<circle cx="130.23" cy="66.49" r="1.1" fill="#a8143e"/>
<circle cx="133.45" cy="66.41" r="1.1" fill="#a8143e"/>
<circle cx="136.66" cy="66.33" r="1.1" fill="#a8143e"/>
<circle cx="139.88" cy="66.25" r="1.1" fill="#a8143e"/>
<circle cx="143.09" cy="66.18" r="1.1" fill="#a8143e"/>
<circle cx="146.31" cy="66.11" r="1.1" fill="#a8143e"/>
<circle cx="149.52" cy="66.04" r="1.1" fill="#a8143e"/>
<circle cx="152.74" cy="65.98" r="1.1" fill="#a8143e"/>
<circle cx="155.95" cy="65.91" r="1.1" fill="#a8143e"/>
<circle cx="159.17" cy="65.86" r="1.1" fill="#a8143e"/>
<circle cx="162.38" cy="65.8" r="1.1" fill="#a8143e"/>
<circle cx="165.6" cy="65.75" r="1.1" fill="#a8143e"/>
<path d="M37,123.82V128.68M35.9,123.82H38.1M35.9,128.68H38.1M40.21,123.82V128.68M39.11,123.82H41.31M39.11,128.68H41.31M43.43,123.82V128.68M42.33,123.82H44.53M42.33,128.68H44.53M46.64,123.82V128.68M45.54,123.82H47.74M45.54,128.68H47.74M49.86,122.01V126.87M48.76,122.01H50.96M48.76,126.87H50.96M53.07,112.15V117.01M51.97,112.15H54.17M51.97,117.01H54.17M56.29,98.5V103.36M55.19,98.5H57.39M55.19,103.36H57.39M59.5,85.11V89.97M58.4,85.11H60.6M58.4,89.97H60.6M62.72,76.58V81.44M61.62,76.58H63.82M61.62,81.44H63.82M65.93,67.41V72.27M64.83,67.41H67.03M64.83,72.27H67.03M69.15,59.46V64.32M68.05,59.46H70.25M68.05,64.32H70.25M72.36,54.74V59.6M71.26,54.74H73.46M71.26,59.6H73.46M75.58,52.05V56.91M74.48,52.05H76.68M74.48,56.91H76.68M78.79,50.46V55.32M77.69,50.46H79.89M77.69,55.32H79.89M82.01,49.26V54.12M80.91,49.26H83.11M80.91,54.12H83.11M85.22,48.28V53.14M84.12,48.28H86.32M84.12,53.14H86.32M88.44,47.37V52.23M87.34,47.37H89.54M87.34,52.23H89.54M91.65,46.4V51.26M90.55,46.4H92.75M90.55,51.26H92.75M94.87,45.46V50.32M93.77,45.46H95.97M93.77,50.32H95.97M98.08,44.67V49.53M96.98,44.67H99.18M96.98,49.53H99.18M101.3,44.04V48.9M100.2,44.04H102.4M100.2,48.9H102.4M104.51,43.49V48.35M103.41,43.49H105.61M103.41,48.35H105.61M107.73,43.04V47.9M106.63,43.04H108.83M106.63,47.9H108.83M110.94,42.7V47.56M109.84,42.7H112.04M109.84,47.56H112.04M114.16,42.4V47.26M113.06,42.4H115.26M113.06,47.26H115.26M117.37,42.13V46.99M116.27,42.13H118.47M116.27,46.99H118.47M120.59,41.89V46.75M119.49,41.89H121.69M119.49,46.75H121.69M123.8,41.67V46.53M122.7,41.67H124.9M122.7,46.53H124.9M127.02,41.48V46.34M125.92,41.48H128.12M125.92,46.34H128.12M130.23,41.3V46.16M129.13,41.3H131.33M129.13,46.16H131.33M133.45,41.14V46M132.35,41.14H134.55M132.35,46H134.55M136.66,40.99V45.85M135.56,40.99H137.76M135.56,45.85H137.76M139.88,40.84V45.7M138.78,40.84H140.98M138.78,45.7H140.98M143.09,40.69V45.55M141.99,40.69H144.19M141.99,45.55H144.19M146.31,40.56V45.42M145.21,40.56H147.41M145.21,45.42H147.41M149.52,40.43V45.29M148.42,40.43H150.62M148.42,45.29H150.62M152.74,40.31V45.17M151.64,40.31H153.84M151.64,45.17H153.84M155.95,40.21V45.07M154.85,40.21H157.05M154.85,45.07H157.05M159.17,40.12V44.98M158.07,40.12H160.27M158.07,44.98H160.27M162.38,40.05V44.91M161.28,40.05H163.48M161.28,44.91H163.48M165.6,39.99V44.85M164.5,39.99H166.7M164.5,44.85H166.7" stroke="#1a1a1a" stroke-width="0.65" fill="none"/>
<path d="M37,126.25 L37.54,126.25 L38.08,126.25 L38.61,126.25 L39.15,126.25 L39.69,126.25 L40.23,126.25 L40.77,126.25 L41.3,126.25 L41.84,126.25 L42.38,126.25 L42.92,126.25 L43.46,126.25 L43.99,126.25 L44.53,126.25 L45.07,126.25 L45.61,126.25 L46.15,126.25 L46.69,126.25 L47.22,126.25 L47.76,126.25 L48.3,126.22 L48.84,125.86 L49.38,125.19 L49.91,124.35 L50.45,123.4 L50.99,122.04 L51.53,120.31 L52.07,118.35 L52.6,116.32 L53.14,114.33 L53.68,112.19 L54.22,109.93 L54.76,107.59 L55.29,105.22 L55.83,102.88 L56.37,100.58 L56.91,98.18 L57.45,95.75 L57.98,93.36 L58.52,91.1 L59.06,89.04 L59.6,87.24 L60.14,85.62 L60.67,84.12 L61.21,82.72 L61.75,81.38 L62.29,80.07 L62.83,78.75 L63.36,77.38 L63.9,75.95 L64.44,74.4 L64.98,72.77 L65.52,71.11 L66.06,69.48 L66.59,67.93 L67.13,66.54 L67.67,65.22 L68.21,63.94 L68.75,62.74 L69.28,61.63 L69.82,60.65 L70.36,59.81 L70.9,59.03 L71.44,58.3 L71.97,57.63 L72.51,57 L73.05,56.43 L73.59,55.92 L74.13,55.47 L74.66,55.08 L75.2,54.72 L75.74,54.39 L76.28,54.08 L76.82,53.79 L77.35,53.53 L77.89,53.28 L78.43,53.04 L78.97,52.81 L79.51,52.6 L80.04,52.38 L80.58,52.18 L81.12,51.99 L81.66,51.8 L82.2,51.63 L82.73,51.45 L83.27,51.29 L83.81,51.12 L84.35,50.96 L84.89,50.81 L85.43,50.65 L85.96,50.5 L86.5,50.35 L87.04,50.2 L87.58,50.05 L88.12,49.89 L88.65,49.74 L89.19,49.58 L89.73,49.42 L90.27,49.25 L90.81,49.09 L91.34,48.93 L91.88,48.76 L92.42,48.6 L92.96,48.44 L93.5,48.28 L94.03,48.13 L94.57,47.97 L95.11,47.82 L95.65,47.68 L96.19,47.54 L96.72,47.41 L97.26,47.28 L97.8,47.16 L98.34,47.04 L98.88,46.93 L99.41,46.83 L99.95,46.72 L100.49,46.62 L101.03,46.52 L101.57,46.42 L102.1,46.32 L102.64,46.22 L103.18,46.13 L103.72,46.04 L104.26,45.96 L104.8,45.87 L105.33,45.79 L105.87,45.72 L106.41,45.64 L106.95,45.57 L107.49,45.5 L108.02,45.44 L108.56,45.38 L109.1,45.32 L109.64,45.26 L110.18,45.21 L110.71,45.15 L111.25,45.1 L111.79,45.05 L112.33,45 L112.87,44.95 L113.4,44.9 L113.94,44.85 L114.48,44.8 L115.02,44.75 L115.56,44.71 L116.09,44.66 L116.63,44.62 L117.17,44.58 L117.71,44.53 L118.25,44.49 L118.78,44.45 L119.32,44.41 L119.86,44.37 L120.4,44.33 L120.94,44.29 L121.47,44.26 L122.01,44.22 L122.55,44.18 L123.09,44.15 L123.63,44.11 L124.17,44.08 L124.7,44.05 L125.24,44.01 L125.78,43.98 L126.32,43.95 L126.86,43.92 L127.39,43.89 L127.93,43.86 L128.47,43.83 L129.01,43.8 L129.55,43.77 L130.08,43.74 L130.62,43.71 L131.16,43.68 L131.7,43.66 L132.24,43.63 L132.77,43.6 L133.31,43.58 L133.85,43.55 L134.39,43.53 L134.93,43.5 L135.46,43.47 L136,43.45 L136.54,43.42 L137.08,43.4 L137.62,43.37 L138.15,43.35 L138.69,43.32 L139.23,43.3 L139.77,43.27 L140.31,43.25 L140.84,43.22 L141.38,43.2 L141.92,43.17 L142.46,43.15 L143,43.13 L143.54,43.1 L144.07,43.08 L144.61,43.06 L145.15,43.03 L145.69,43.01 L146.23,42.99 L146.76,42.97 L147.3,42.95 L147.84,42.93 L148.38,42.9 L148.92,42.88 L149.45,42.86 L149.99,42.84 L150.53,42.82 L151.07,42.8 L151.61,42.78 L152.14,42.77 L152.68,42.75 L153.22,42.73 L153.76,42.71 L154.3,42.69 L154.83,42.68 L155.37,42.66 L155.91,42.64 L156.45,42.63 L156.99,42.61 L157.52,42.6 L158.06,42.58 L158.6,42.57 L159.14,42.55 L159.68,42.54 L160.22,42.53 L160.75,42.51 L161.29,42.5 L161.83,42.49 L162.37,42.48 L162.91,42.47 L163.44,42.46 L163.98,42.45 L164.52,42.44 L165.06,42.43 L165.6,42.42" stroke="#2e1f5c" stroke-width="1.7" fill="none"/>
<circle cx="37" cy="126.25" r="1.1" fill="#2e1f5c"/>
<circle cx="40.21" cy="126.25" r="1.1" fill="#2e1f5c"/>
<circle cx="43.43" cy="126.25" r="1.1" fill="#2e1f5c"/>
<circle cx="46.64" cy="126.25" r="1.1" fill="#2e1f5c"/>
<circle cx="49.86" cy="124.44" r="1.1" fill="#2e1f5c"/>
<circle cx="53.07" cy="114.58" r="1.1" fill="#2e1f5c"/>
<circle cx="56.29" cy="100.93" r="1.1" fill="#2e1f5c"/>
<circle cx="59.5" cy="87.54" r="1.1" fill="#2e1f5c"/>
<circle cx="62.72" cy="79.01" r="1.1" fill="#2e1f5c"/>
<circle cx="65.93" cy="69.84" r="1.1" fill="#2e1f5c"/>
<circle cx="69.15" cy="61.89" r="1.1" fill="#2e1f5c"/>
<circle cx="72.36" cy="57.17" r="1.1" fill="#2e1f5c"/>
<circle cx="75.58" cy="54.48" r="1.1" fill="#2e1f5c"/>
<circle cx="78.79" cy="52.89" r="1.1" fill="#2e1f5c"/>
<circle cx="82.01" cy="51.69" r="1.1" fill="#2e1f5c"/>
<circle cx="85.22" cy="50.71" r="1.1" fill="#2e1f5c"/>
<circle cx="88.44" cy="49.8" r="1.1" fill="#2e1f5c"/>
<circle cx="91.65" cy="48.83" r="1.1" fill="#2e1f5c"/>
<circle cx="94.87" cy="47.89" r="1.1" fill="#2e1f5c"/>
<circle cx="98.08" cy="47.1" r="1.1" fill="#2e1f5c"/>
<circle cx="101.3" cy="46.47" r="1.1" fill="#2e1f5c"/>
<circle cx="104.51" cy="45.92" r="1.1" fill="#2e1f5c"/>
<circle cx="107.73" cy="45.47" r="1.1" fill="#2e1f5c"/>
<circle cx="110.94" cy="45.13" r="1.1" fill="#2e1f5c"/>
<circle cx="114.16" cy="44.83" r="1.1" fill="#2e1f5c"/>
<circle cx="117.37" cy="44.56" r="1.1" fill="#2e1f5c"/>
<circle cx="120.59" cy="44.32" r="1.1" fill="#2e1f5c"/>
<circle cx="123.8" cy="44.1" r="1.1" fill="#2e1f5c"/>
<circle cx="127.02" cy="43.91" r="1.1" fill="#2e1f5c"/>
<circle cx="130.23" cy="43.73" r="1.1" fill="#2e1f5c"/>
<circle cx="133.45" cy="43.57" r="1.1" fill="#2e1f5c"/>
<circle cx="136.66" cy="43.42" r="1.1" fill="#2e1f5c"/>
<circle cx="139.88" cy="43.27" r="1.1" fill="#2e1f5c"/>
<circle cx="143.09" cy="43.12" r="1.1" fill="#2e1f5c"/>
<circle cx="146.31" cy="42.99" r="1.1" fill="#2e1f5c"/>
<circle cx="149.52" cy="42.86" r="1.1" fill="#2e1f5c"/>
<circle cx="152.74" cy="42.74" r="1.1" fill="#2e1f5c"/>
<circle cx="155.95" cy="42.64" r="1.1" fill="#2e1f5c"/>
<circle cx="159.17" cy="42.55" r="1.1" fill="#2e1f5c"/>
<circle cx="162.38" cy="42.48" r="1.1" fill="#2e1f5c"/>
<circle cx="165.6" cy="42.42" r="1.1" fill="#2e1f5c"/>
<path d="M37,124.31V128.19M35.9,124.31H38.1M35.9,128.19H38.1M40.21,124.31V128.19M39.11,124.31H41.31M39.11,128.19H41.31M43.43,124.31V128.19M42.33,124.31H44.53M42.33,128.19H44.53M46.64,119.02V122.91M45.54,119.02H47.74M45.54,122.91H47.74M49.86,99.37V103.26M48.76,99.37H50.96M48.76,103.26H50.96M53.07,84.27V88.15M51.97,84.27H54.17M51.97,88.15H54.17M56.29,70.73V74.62M55.19,70.73H57.39M55.19,74.62H57.39M59.5,60.44V64.32M58.4,60.44H60.6M58.4,64.32H60.6M62.72,51.23V55.12M61.62,51.23H63.82M61.62,55.12H63.82M65.93,47.68V51.57M64.83,47.68H67.03M64.83,51.57H67.03M69.15,46.02V49.9M68.05,46.02H70.25M68.05,49.9H70.25M72.36,44.87V48.76M71.26,44.87H73.46M71.26,48.76H73.46M75.58,43.91V47.8M74.48,43.91H76.68M74.48,47.8H76.68M78.79,43.13V47.01M77.69,43.13H79.89M77.69,47.01H79.89M82.01,42.47V46.36M80.91,42.47H83.11M80.91,46.36H83.11M85.22,41.91V45.79M84.12,41.91H86.32M84.12,45.79H86.32M88.44,41.41V45.3M87.34,41.41H89.54M87.34,45.3H89.54M91.65,40.96V44.84M90.55,40.96H92.75M90.55,44.84H92.75M94.87,40.52V44.41M93.77,40.52H95.97M93.77,44.41H95.97M98.08,40.07V43.96M96.98,40.07H99.18M96.98,43.96H99.18M101.3,39.62V43.51M100.2,39.62H102.4M100.2,43.51H102.4M104.51,39.21V43.1M103.41,39.21H105.61M103.41,43.1H105.61M107.73,38.87V42.76M106.63,38.87H108.83M106.63,42.76H108.83M110.94,38.62V42.51M109.84,38.62H112.04M109.84,42.51H112.04M114.16,38.41V42.29M113.06,38.41H115.26M113.06,42.29H115.26M117.37,38.21V42.1M116.27,38.21H118.47M116.27,42.1H118.47M120.59,38.03V41.92M119.49,38.03H121.69M119.49,41.92H121.69M123.8,37.88V41.77M122.7,37.88H124.9M122.7,41.77H124.9M127.02,37.74V41.63M125.92,37.74H128.12M125.92,41.63H128.12M130.23,37.62V41.51M129.13,37.62H131.33M129.13,41.51H131.33M133.45,37.52V41.41M132.35,37.52H134.55M132.35,41.41H134.55M136.66,37.42V41.31M135.56,37.42H137.76M135.56,41.31H137.76M139.88,37.32V41.21M138.78,37.32H140.98M138.78,41.21H140.98M143.09,37.23V41.12M141.99,37.23H144.19M141.99,41.12H144.19M146.31,37.14V41.03M145.21,37.14H147.41M145.21,41.03H147.41M149.52,37.06V40.95M148.42,37.06H150.62M148.42,40.95H150.62M152.74,36.99V40.88M151.64,36.99H153.84M151.64,40.88H153.84M155.95,36.93V40.82M154.85,36.93H157.05M154.85,40.82H157.05M159.17,36.88V40.77M158.07,36.88H160.27M158.07,40.77H160.27M162.38,36.85V40.74M161.28,36.85H163.48M161.28,40.74H163.48M165.6,36.83V40.72M164.5,36.83H166.7M164.5,40.72H166.7" stroke="#1a1a1a" stroke-width="0.65" fill="none"/>
<path d="M37,126.25 L37.54,126.25 L38.08,126.25 L38.61,126.25 L39.15,126.25 L39.69,126.25 L40.23,126.25 L40.77,126.25 L41.3,126.25 L41.84,126.25 L42.38,126.25 L42.92,126.25 L43.46,126.25 L43.99,126.25 L44.53,126.22 L45.07,125.59 L45.61,124.3 L46.15,122.64 L46.69,120.81 L47.22,118.11 L47.76,114.61 L48.3,110.77 L48.84,107.04 L49.38,103.85 L49.91,101.04 L50.45,98.37 L50.99,95.8 L51.53,93.3 L52.07,90.84 L52.6,88.38 L53.14,85.9 L53.68,83.34 L54.22,80.78 L54.76,78.32 L55.29,76.08 L55.83,74.14 L56.37,72.43 L56.91,70.86 L57.45,69.34 L57.98,67.79 L58.52,66.11 L59.06,64.15 L59.6,61.99 L60.14,59.81 L60.67,57.79 L61.21,56.1 L61.75,54.91 L62.29,53.91 L62.83,53 L63.36,52.2 L63.9,51.48 L64.44,50.87 L64.98,50.34 L65.52,49.91 L66.06,49.55 L66.59,49.21 L67.13,48.9 L67.67,48.62 L68.21,48.36 L68.75,48.13 L69.28,47.91 L69.82,47.7 L70.36,47.5 L70.9,47.31 L71.44,47.13 L71.97,46.94 L72.51,46.77 L73.05,46.59 L73.59,46.43 L74.13,46.27 L74.66,46.11 L75.2,45.96 L75.74,45.82 L76.28,45.67 L76.82,45.54 L77.35,45.4 L77.89,45.28 L78.43,45.15 L78.97,45.03 L79.51,44.91 L80.04,44.8 L80.58,44.69 L81.12,44.58 L81.66,44.48 L82.2,44.38 L82.73,44.28 L83.27,44.18 L83.81,44.09 L84.35,44 L84.89,43.91 L85.43,43.82 L85.96,43.73 L86.5,43.65 L87.04,43.56 L87.58,43.48 L88.12,43.4 L88.65,43.32 L89.19,43.25 L89.73,43.17 L90.27,43.09 L90.81,43.02 L91.34,42.94 L91.88,42.87 L92.42,42.8 L92.96,42.72 L93.5,42.65 L94.03,42.58 L94.57,42.5 L95.11,42.43 L95.65,42.35 L96.19,42.28 L96.72,42.2 L97.26,42.13 L97.8,42.05 L98.34,41.98 L98.88,41.9 L99.41,41.83 L99.95,41.75 L100.49,41.68 L101.03,41.6 L101.57,41.53 L102.1,41.46 L102.64,41.39 L103.18,41.32 L103.72,41.25 L104.26,41.19 L104.8,41.12 L105.33,41.06 L105.87,41 L106.41,40.94 L106.95,40.89 L107.49,40.84 L108.02,40.79 L108.56,40.75 L109.1,40.7 L109.64,40.66 L110.18,40.62 L110.71,40.58 L111.25,40.55 L111.79,40.51 L112.33,40.47 L112.87,40.44 L113.4,40.4 L113.94,40.36 L114.48,40.33 L115.02,40.3 L115.56,40.26 L116.09,40.23 L116.63,40.2 L117.17,40.16 L117.71,40.13 L118.25,40.1 L118.78,40.07 L119.32,40.04 L119.86,40.02 L120.4,39.99 L120.94,39.96 L121.47,39.93 L122.01,39.91 L122.55,39.88 L123.09,39.85 L123.63,39.83 L124.17,39.81 L124.7,39.78 L125.24,39.76 L125.78,39.74 L126.32,39.71 L126.86,39.69 L127.39,39.67 L127.93,39.65 L128.47,39.63 L129.01,39.61 L129.55,39.59 L130.08,39.57 L130.62,39.55 L131.16,39.53 L131.7,39.52 L132.24,39.5 L132.77,39.48 L133.31,39.47 L133.85,39.45 L134.39,39.43 L134.93,39.42 L135.46,39.4 L136,39.38 L136.54,39.37 L137.08,39.35 L137.62,39.33 L138.15,39.32 L138.69,39.3 L139.23,39.29 L139.77,39.27 L140.31,39.25 L140.84,39.24 L141.38,39.22 L141.92,39.21 L142.46,39.19 L143,39.18 L143.54,39.16 L144.07,39.15 L144.61,39.13 L145.15,39.12 L145.69,39.1 L146.23,39.09 L146.76,39.08 L147.3,39.06 L147.84,39.05 L148.38,39.04 L148.92,39.02 L149.45,39.01 L149.99,39 L150.53,38.99 L151.07,38.97 L151.61,38.96 L152.14,38.95 L152.68,38.94 L153.22,38.93 L153.76,38.92 L154.3,38.91 L154.83,38.9 L155.37,38.89 L155.91,38.88 L156.45,38.87 L156.99,38.86 L157.52,38.85 L158.06,38.84 L158.6,38.84 L159.14,38.83 L159.68,38.82 L160.22,38.82 L160.75,38.81 L161.29,38.8 L161.83,38.8 L162.37,38.79 L162.91,38.79 L163.44,38.78 L163.98,38.78 L164.52,38.78 L165.06,38.77 L165.6,38.77" stroke="#c4287e" stroke-width="1.7" fill="none"/>
<circle cx="37" cy="126.25" r="1.1" fill="#c4287e"/>
<circle cx="40.21" cy="126.25" r="1.1" fill="#c4287e"/>
<circle cx="43.43" cy="126.25" r="1.1" fill="#c4287e"/>
<circle cx="46.64" cy="120.97" r="1.1" fill="#c4287e"/>
<circle cx="49.86" cy="101.31" r="1.1" fill="#c4287e"/>
<circle cx="53.07" cy="86.21" r="1.1" fill="#c4287e"/>
<circle cx="56.29" cy="72.67" r="1.1" fill="#c4287e"/>
<circle cx="59.5" cy="62.38" r="1.1" fill="#c4287e"/>
<circle cx="62.72" cy="53.18" r="1.1" fill="#c4287e"/>
<circle cx="65.93" cy="49.63" r="1.1" fill="#c4287e"/>
<circle cx="69.15" cy="47.96" r="1.1" fill="#c4287e"/>
<circle cx="72.36" cy="46.82" r="1.1" fill="#c4287e"/>
<circle cx="75.58" cy="45.86" r="1.1" fill="#c4287e"/>
<circle cx="78.79" cy="45.07" r="1.1" fill="#c4287e"/>
<circle cx="82.01" cy="44.41" r="1.1" fill="#c4287e"/>
<circle cx="85.22" cy="43.85" r="1.1" fill="#c4287e"/>
<circle cx="88.44" cy="43.36" r="1.1" fill="#c4287e"/>
<circle cx="91.65" cy="42.9" r="1.1" fill="#c4287e"/>
<circle cx="94.87" cy="42.46" r="1.1" fill="#c4287e"/>
<circle cx="98.08" cy="42.01" r="1.1" fill="#c4287e"/>
<circle cx="101.3" cy="41.57" r="1.1" fill="#c4287e"/>
<circle cx="104.51" cy="41.16" r="1.1" fill="#c4287e"/>
<circle cx="107.73" cy="40.82" r="1.1" fill="#c4287e"/>
<circle cx="110.94" cy="40.57" r="1.1" fill="#c4287e"/>
<circle cx="114.16" cy="40.35" r="1.1" fill="#c4287e"/>
<circle cx="117.37" cy="40.15" r="1.1" fill="#c4287e"/>
<circle cx="120.59" cy="39.98" r="1.1" fill="#c4287e"/>
<circle cx="123.8" cy="39.82" r="1.1" fill="#c4287e"/>
<circle cx="127.02" cy="39.68" r="1.1" fill="#c4287e"/>
<circle cx="130.23" cy="39.57" r="1.1" fill="#c4287e"/>
<circle cx="133.45" cy="39.46" r="1.1" fill="#c4287e"/>
<circle cx="136.66" cy="39.36" r="1.1" fill="#c4287e"/>
<circle cx="139.88" cy="39.27" r="1.1" fill="#c4287e"/>
<circle cx="143.09" cy="39.17" r="1.1" fill="#c4287e"/>
<circle cx="146.31" cy="39.09" r="1.1" fill="#c4287e"/>
<circle cx="149.52" cy="39.01" r="1.1" fill="#c4287e"/>
<circle cx="152.74" cy="38.94" r="1.1" fill="#c4287e"/>
<circle cx="155.95" cy="38.88" r="1.1" fill="#c4287e"/>
<circle cx="159.17" cy="38.83" r="1.1" fill="#c4287e"/>
<circle cx="162.38" cy="38.79" r="1.1" fill="#c4287e"/>
<circle cx="165.6" cy="38.77" r="1.1" fill="#c4287e"/>
<line x1="116" y1="96.9" x2="125.4" y2="96.9" stroke="#24528e" stroke-width="1.5"/>
<path d="M119.1,96.9L120.7,95.3L122.3,96.9L120.7,98.5Z" fill="#12305a"/>
<line x1="116" y1="103.9" x2="125.4" y2="103.9" stroke="#7cb45a" stroke-width="1.5"/>
<path d="M119.1,103.9L120.7,102.3L122.3,103.9L120.7,105.5Z" fill="#4a8a30"/>
<line x1="116" y1="110.5" x2="125.4" y2="110.5" stroke="#a8143e" stroke-width="1.5"/>
<path d="M119.1,110.5L120.7,108.9L122.3,110.5L120.7,112.1Z" fill="#6a0a24"/>
<line x1="116" y1="120.2" x2="125.4" y2="120.2" stroke="#c4287e" stroke-width="1.5"/>
<path d="M119.1,120.2L120.7,118.6L122.3,120.2L120.7,121.8Z" fill="#8a1450"/>
<line x1="116" y1="126.6" x2="125.4" y2="126.6" stroke="#2e1f5c" stroke-width="1.5"/>
<path d="M119.1,126.6L120.7,125L122.3,126.6L120.7,128.2Z" fill="#1a1040"/>
<line x1="116" y1="133.2" x2="125.4" y2="133.2" stroke="#e6ac3a" stroke-width="1.5"/>
<path d="M119.1,133.2L120.7,131.6L122.3,133.2L120.7,134.8Z" fill="#b08a20"/>
<text x="130" y="98.45" font-size="5" stroke="#222" stroke-width="0.2" textLength="31.7" lengthAdjust="spacingAndGlyphs" fill="#222">Buffer control</text>
<text x="130" y="105.55" font-size="5" stroke="#222" stroke-width="0.2" textLength="8.2" lengthAdjust="spacingAndGlyphs" fill="#222">500</text>
<text x="130" y="112.05" font-size="5" stroke="#222" stroke-width="0.2" textLength="11.6" lengthAdjust="spacingAndGlyphs" fill="#222">1000</text>
<text x="130" y="121.85" font-size="5" stroke="#222" stroke-width="0.2" textLength="5.4" lengthAdjust="spacingAndGlyphs" fill="#222">50</text>
<text x="130" y="128.15" font-size="5" stroke="#222" stroke-width="0.2" textLength="8.2" lengthAdjust="spacingAndGlyphs" fill="#222">100</text>
<text x="130" y="134.75" font-size="5" stroke="#222" stroke-width="0.2" textLength="8.2" lengthAdjust="spacingAndGlyphs" fill="#222">200</text>
<line x1="142.7" y1="101.4" x2="142.7" y2="112.1" stroke="#1a1a1a" stroke-width="1.0"/>
<line x1="142.7" y1="117.4" x2="142.7" y2="134.8" stroke="#1a1a1a" stroke-width="1.0"/>
<text x="147" y="105.55" font-size="5" stroke="#222" stroke-width="0.2" textLength="15.1" lengthAdjust="spacingAndGlyphs" fill="#222">UHRA</text>
<text x="145.2" y="112.05" font-size="5" stroke="#222" stroke-width="0.2" textLength="18.7" lengthAdjust="spacingAndGlyphs" fill="#222">(µg/mL)</text>
<text x="148.8" y="120.85" font-size="5" stroke="#222" stroke-width="0.2" textLength="9.3" lengthAdjust="spacingAndGlyphs" fill="#222">Prot-</text>
<text x="146.1" y="127.85" font-size="5" stroke="#222" stroke-width="0.2" textLength="16" lengthAdjust="spacingAndGlyphs" fill="#222">amine</text>
<text x="145.2" y="134.75" font-size="5" stroke="#222" stroke-width="0.2" textLength="18.7" lengthAdjust="spacingAndGlyphs" fill="#222">(µg/mL)</text>
<line x1="37.4" y1="203" x2="37.4" y2="315.75" stroke="#1a1a1a" stroke-width="1.5"/>
<line x1="34.8" y1="303.5" x2="37.4" y2="303.5" stroke="#1a1a1a" stroke-width="1.0"/>
<text x="31" y="305.8" font-size="6.57" stroke="#222" stroke-width="0.2" text-anchor="end" fill="#222">0.0</text>
<line x1="34.8" y1="279.1" x2="37.4" y2="279.1" stroke="#1a1a1a" stroke-width="1.0"/>
<text x="31" y="281.4" font-size="6.57" stroke="#222" stroke-width="0.2" text-anchor="end" fill="#222">0.1</text>
<line x1="34.8" y1="254.7" x2="37.4" y2="254.7" stroke="#1a1a1a" stroke-width="1.0"/>
<text x="31" y="257" font-size="6.57" stroke="#222" stroke-width="0.2" text-anchor="end" fill="#222">0.2</text>
<line x1="34.8" y1="230.3" x2="37.4" y2="230.3" stroke="#1a1a1a" stroke-width="1.0"/>
<text x="31" y="232.6" font-size="6.57" stroke="#222" stroke-width="0.2" text-anchor="end" fill="#222">0.3</text>
<line x1="34.8" y1="205.9" x2="37.4" y2="205.9" stroke="#1a1a1a" stroke-width="1.0"/>
<text x="31" y="208.2" font-size="6.57" stroke="#222" stroke-width="0.2" text-anchor="end" fill="#222">0.4</text>
<line x1="36.65" y1="315" x2="172.3" y2="315" stroke="#1a1a1a" stroke-width="1.5"/>
<line x1="37" y1="315" x2="37" y2="317.4" stroke="#1a1a1a" stroke-width="1.0"/>
<line x1="63.45" y1="315" x2="63.45" y2="317.4" stroke="#1a1a1a" stroke-width="1.0"/>
<line x1="89.9" y1="315" x2="89.9" y2="317.4" stroke="#1a1a1a" stroke-width="1.0"/>
<line x1="116.35" y1="315" x2="116.35" y2="317.4" stroke="#1a1a1a" stroke-width="1.0"/>
<line x1="142.8" y1="315" x2="142.8" y2="317.4" stroke="#1a1a1a" stroke-width="1.0"/>
<line x1="169.25" y1="315" x2="169.25" y2="317.4" stroke="#1a1a1a" stroke-width="1.0"/>
<text x="36" y="327.55" font-size="6.14" stroke="#222" stroke-width="0.2" text-anchor="middle" fill="#222">0</text>
<text x="62.45" y="327.55" font-size="6.14" stroke="#222" stroke-width="0.2" text-anchor="middle" fill="#222">25</text>
<text x="88.9" y="327.55" font-size="6.14" stroke="#222" stroke-width="0.2" text-anchor="middle" fill="#222">50</text>
<text x="115.35" y="327.55" font-size="6.14" stroke="#222" stroke-width="0.2" text-anchor="middle" fill="#222">75</text>
<text x="141.8" y="327.55" font-size="6.14" stroke="#222" stroke-width="0.2" text-anchor="middle" fill="#222">100</text>
<text x="168.25" y="327.55" font-size="6.14" stroke="#222" stroke-width="0.2" text-anchor="middle" fill="#222">125</text>
<text x="85.1" y="339.8" font-size="9.43" stroke="#222" stroke-width="0.35" textLength="36.9" lengthAdjust="spacingAndGlyphs" fill="#222">Time (min)</text>
<text x="14.9" y="261.3" font-size="9.2" stroke="#222" stroke-width="0.2" textLength="62.7" lengthAdjust="spacingAndGlyphs" text-anchor="middle" transform="rotate(-90 14.9 261.3)" fill="#222">Absorbance (A<tspan font-size="5.0" dy="1.6">405</tspan><tspan dy="-1.6">)</tspan></text>
<path d="M37,306.43V307.4M35.9,306.43H38.1M35.9,307.4H38.1M40.21,306.45V307.42M39.11,306.45H41.31M39.11,307.42H41.31M43.43,306.46V307.44M42.33,306.46H44.53M42.33,307.44H44.53M46.64,306.48V307.46M45.54,306.48H47.74M45.54,307.46H47.74M49.85,306.5V307.48M48.75,306.5H50.95M48.75,307.48H50.95M53.07,306.52V307.5M51.97,306.52H54.17M51.97,307.5H54.17M56.28,306.54V307.51M55.18,306.54H57.38M55.18,307.51H57.38M59.5,306.56V307.53M58.4,306.56H60.6M58.4,307.53H60.6M62.71,306.57V307.55M61.61,306.57H63.81M61.61,307.55H63.81M65.92,306.59V307.57M64.82,306.59H67.02M64.82,307.57H67.02M69.14,306.61V307.59M68.04,306.61H70.24M68.04,307.59H70.24M72.35,306.63V307.6M71.25,306.63H73.45M71.25,307.6H73.45M75.56,306.65V307.62M74.46,306.65H76.66M74.46,307.62H76.66M78.78,306.66V307.64M77.68,306.66H79.88M77.68,307.64H79.88M81.99,306.68V307.66M80.89,306.68H83.09M80.89,307.66H83.09M85.21,306.7V307.68M84.11,306.7H86.31M84.11,307.68H86.31M88.42,306.72V307.7M87.32,306.72H89.52M87.32,307.7H89.52M91.63,306.74V307.71M90.53,306.74H92.73M90.53,307.71H92.73M94.85,306.76V307.73M93.75,306.76H95.95M93.75,307.73H95.95M98.06,306.77V307.75M96.96,306.77H99.16M96.96,307.75H99.16M101.27,306.79V307.77M100.17,306.79H102.37M100.17,307.77H102.37M104.49,306.81V307.79M103.39,306.81H105.59M103.39,307.79H105.59M107.7,306.83V307.8M106.6,306.83H108.8M106.6,307.8H108.8M110.91,306.85V307.82M109.81,306.85H112.01M109.81,307.82H112.01M114.13,306.87V307.84M113.03,306.87H115.23M113.03,307.84H115.23M117.34,306.88V307.86M116.24,306.88H118.44M116.24,307.86H118.44M120.56,306.9V307.88M119.46,306.9H121.66M119.46,307.88H121.66M123.77,306.92V307.9M122.67,306.92H124.87M122.67,307.9H124.87M126.98,306.94V307.91M125.88,306.94H128.08M125.88,307.91H128.08M130.2,306.96V307.93M129.1,306.96H131.3M129.1,307.93H131.3M133.41,306.97V307.95M132.31,306.97H134.51M132.31,307.95H134.51M136.62,306.99V307.97M135.52,306.99H137.72M135.52,307.97H137.72M139.84,307.01V307.99M138.74,307.01H140.94M138.74,307.99H140.94M143.05,307.03V308.01M141.95,307.03H144.15M141.95,308.01H144.15M146.26,307.05V308.02M145.16,307.05H147.36M145.16,308.02H147.36M149.48,307.07V308.04M148.38,307.07H150.58M148.38,308.04H150.58M152.69,307.08V308.06M151.59,307.08H153.79M151.59,308.06H153.79M155.91,307.1V308.08M154.81,307.1H157.01M154.81,308.08H157.01M159.12,307.12V308.1M158.02,307.12H160.22M158.02,308.1H160.22M162.33,307.14V308.11M161.23,307.14H163.43M161.23,308.11H163.43" stroke="#1a1a1a" stroke-width="0.65" fill="none"/>
<path d="M37,306.92 L37.54,306.92 L38.07,306.92 L38.61,306.93 L39.15,306.93 L39.68,306.93 L40.22,306.93 L40.76,306.94 L41.3,306.94 L41.83,306.94 L42.37,306.95 L42.91,306.95 L43.44,306.95 L43.98,306.96 L44.52,306.96 L45.05,306.96 L45.59,306.96 L46.13,306.97 L46.67,306.97 L47.2,306.97 L47.74,306.98 L48.28,306.98 L48.81,306.98 L49.35,306.99 L49.89,306.99 L50.42,306.99 L50.96,307 L51.5,307 L52.04,307 L52.57,307 L53.11,307.01 L53.65,307.01 L54.18,307.01 L54.72,307.02 L55.26,307.02 L55.79,307.02 L56.33,307.03 L56.87,307.03 L57.4,307.03 L57.94,307.03 L58.48,307.04 L59.02,307.04 L59.55,307.04 L60.09,307.05 L60.63,307.05 L61.16,307.05 L61.7,307.06 L62.24,307.06 L62.77,307.06 L63.31,307.07 L63.85,307.07 L64.39,307.07 L64.92,307.07 L65.46,307.08 L66,307.08 L66.53,307.08 L67.07,307.09 L67.61,307.09 L68.14,307.09 L68.68,307.1 L69.22,307.1 L69.76,307.1 L70.29,307.1 L70.83,307.11 L71.37,307.11 L71.9,307.11 L72.44,307.12 L72.98,307.12 L73.51,307.12 L74.05,307.13 L74.59,307.13 L75.12,307.13 L75.66,307.14 L76.2,307.14 L76.74,307.14 L77.27,307.14 L77.81,307.15 L78.35,307.15 L78.88,307.15 L79.42,307.16 L79.96,307.16 L80.49,307.16 L81.03,307.17 L81.57,307.17 L82.11,307.17 L82.64,307.17 L83.18,307.18 L83.72,307.18 L84.25,307.18 L84.79,307.19 L85.33,307.19 L85.86,307.19 L86.4,307.2 L86.94,307.2 L87.48,307.2 L88.01,307.21 L88.55,307.21 L89.09,307.21 L89.62,307.21 L90.16,307.22 L90.7,307.22 L91.23,307.22 L91.77,307.23 L92.31,307.23 L92.84,307.23 L93.38,307.24 L93.92,307.24 L94.46,307.24 L94.99,307.24 L95.53,307.25 L96.07,307.25 L96.6,307.25 L97.14,307.26 L97.68,307.26 L98.21,307.26 L98.75,307.27 L99.29,307.27 L99.83,307.27 L100.36,307.28 L100.9,307.28 L101.44,307.28 L101.97,307.28 L102.51,307.29 L103.05,307.29 L103.58,307.29 L104.12,307.3 L104.66,307.3 L105.19,307.3 L105.73,307.31 L106.27,307.31 L106.81,307.31 L107.34,307.31 L107.88,307.32 L108.42,307.32 L108.95,307.32 L109.49,307.33 L110.03,307.33 L110.56,307.33 L111.1,307.34 L111.64,307.34 L112.18,307.34 L112.71,307.35 L113.25,307.35 L113.79,307.35 L114.32,307.35 L114.86,307.36 L115.4,307.36 L115.93,307.36 L116.47,307.37 L117.01,307.37 L117.55,307.37 L118.08,307.38 L118.62,307.38 L119.16,307.38 L119.69,307.38 L120.23,307.39 L120.77,307.39 L121.3,307.39 L121.84,307.4 L122.38,307.4 L122.91,307.4 L123.45,307.41 L123.99,307.41 L124.53,307.41 L125.06,307.42 L125.6,307.42 L126.14,307.42 L126.67,307.42 L127.21,307.43 L127.75,307.43 L128.28,307.43 L128.82,307.44 L129.36,307.44 L129.9,307.44 L130.43,307.45 L130.97,307.45 L131.51,307.45 L132.04,307.45 L132.58,307.46 L133.12,307.46 L133.65,307.46 L134.19,307.47 L134.73,307.47 L135.27,307.47 L135.8,307.48 L136.34,307.48 L136.88,307.48 L137.41,307.49 L137.95,307.49 L138.49,307.49 L139.02,307.49 L139.56,307.5 L140.1,307.5 L140.63,307.5 L141.17,307.51 L141.71,307.51 L142.25,307.51 L142.78,307.52 L143.32,307.52 L143.86,307.52 L144.39,307.53 L144.93,307.53 L145.47,307.53 L146,307.53 L146.54,307.54 L147.08,307.54 L147.62,307.54 L148.15,307.55 L148.69,307.55 L149.23,307.55 L149.76,307.56 L150.3,307.56 L150.84,307.56 L151.37,307.56 L151.91,307.57 L152.45,307.57 L152.99,307.57 L153.52,307.58 L154.06,307.58 L154.6,307.58 L155.13,307.59 L155.67,307.59 L156.21,307.59 L156.74,307.6 L157.28,307.6 L157.82,307.6 L158.35,307.6 L158.89,307.61 L159.43,307.61 L159.97,307.61 L160.5,307.62 L161.04,307.62 L161.58,307.62 L162.11,307.63 L162.65,307.63 L163.19,307.63 L163.72,307.63 L164.26,307.64 L164.8,307.64 L165.34,307.64" stroke="#e6ac3a" stroke-width="2.6" fill="none"/>
<circle cx="37" cy="306.92" r="1.1" fill="#d89020"/>
<circle cx="40.21" cy="306.93" r="1.1" fill="#d89020"/>
<circle cx="43.43" cy="306.95" r="1.1" fill="#d89020"/>
<circle cx="46.64" cy="306.97" r="1.1" fill="#d89020"/>
<circle cx="49.85" cy="306.99" r="1.1" fill="#d89020"/>
<circle cx="53.07" cy="307.01" r="1.1" fill="#d89020"/>
<circle cx="56.28" cy="307.03" r="1.1" fill="#d89020"/>
<circle cx="59.5" cy="307.04" r="1.1" fill="#d89020"/>
<circle cx="62.71" cy="307.06" r="1.1" fill="#d89020"/>
<circle cx="65.92" cy="307.08" r="1.1" fill="#d89020"/>
<circle cx="69.14" cy="307.1" r="1.1" fill="#d89020"/>
<circle cx="72.35" cy="307.12" r="1.1" fill="#d89020"/>
<circle cx="75.56" cy="307.13" r="1.1" fill="#d89020"/>
<circle cx="78.78" cy="307.15" r="1.1" fill="#d89020"/>
<circle cx="81.99" cy="307.17" r="1.1" fill="#d89020"/>
<circle cx="85.21" cy="307.19" r="1.1" fill="#d89020"/>
<circle cx="88.42" cy="307.21" r="1.1" fill="#d89020"/>
<circle cx="91.63" cy="307.23" r="1.1" fill="#d89020"/>
<circle cx="94.85" cy="307.24" r="1.1" fill="#d89020"/>
<circle cx="98.06" cy="307.26" r="1.1" fill="#d89020"/>
<circle cx="101.27" cy="307.28" r="1.1" fill="#d89020"/>
<circle cx="104.49" cy="307.3" r="1.1" fill="#d89020"/>
<circle cx="107.7" cy="307.32" r="1.1" fill="#d89020"/>
<circle cx="110.91" cy="307.34" r="1.1" fill="#d89020"/>
<circle cx="114.13" cy="307.35" r="1.1" fill="#d89020"/>
<circle cx="117.34" cy="307.37" r="1.1" fill="#d89020"/>
<circle cx="120.56" cy="307.39" r="1.1" fill="#d89020"/>
<circle cx="123.77" cy="307.41" r="1.1" fill="#d89020"/>
<circle cx="126.98" cy="307.43" r="1.1" fill="#d89020"/>
<circle cx="130.2" cy="307.44" r="1.1" fill="#d89020"/>
<circle cx="133.41" cy="307.46" r="1.1" fill="#d89020"/>
<circle cx="136.62" cy="307.48" r="1.1" fill="#d89020"/>
<circle cx="139.84" cy="307.5" r="1.1" fill="#d89020"/>
<circle cx="143.05" cy="307.52" r="1.1" fill="#d89020"/>
<circle cx="146.26" cy="307.54" r="1.1" fill="#d89020"/>
<circle cx="149.48" cy="307.55" r="1.1" fill="#d89020"/>
<circle cx="152.69" cy="307.57" r="1.1" fill="#d89020"/>
<circle cx="155.91" cy="307.59" r="1.1" fill="#d89020"/>
<circle cx="159.12" cy="307.61" r="1.1" fill="#d89020"/>
<circle cx="162.33" cy="307.63" r="1.1" fill="#d89020"/>
<path d="M114.12,304.38V306.94M113.02,304.38H115.22M113.02,306.94H115.22M117.34,301.29V305.93M116.24,301.29H118.44M116.24,305.93H118.44M120.55,298.02V304.73M119.45,298.02H121.65M119.45,304.73H121.65M123.76,294.84V303.63M122.66,294.84H124.86M122.66,303.63H124.86M126.98,291.82V302.69M125.88,291.82H128.08M125.88,302.69H128.08M130.19,289.15V302.09M129.09,289.15H131.29M129.09,302.09H131.29M133.4,286.58V301.59M132.3,286.58H134.5M132.3,301.59H134.5M136.62,283.83V300.92M135.52,283.83H137.72M135.52,300.92H137.72M139.83,280.8V299.97M138.73,280.8H140.93M138.73,299.97H140.93M143.05,277.96V299.2M141.95,277.96H144.15M141.95,299.2H144.15M146.26,275.53V298.85M145.16,275.53H147.36M145.16,298.85H147.36M149.47,272.57V297.96M148.37,272.57H150.57M148.37,297.96H150.57M152.69,268.84V296.31M151.59,268.84H153.79M151.59,296.31H153.79M155.9,265.26V294.8M154.8,265.26H157M154.8,294.8H157M159.11,261.82V293.44M158.01,261.82H160.21M158.01,293.44H160.21M162.33,258.64V292.33M161.23,258.64H163.43M161.23,292.33H163.43" stroke="#1a1a1a" stroke-width="0.65" fill="none"/>
<path d="M43.42,306 L43.93,306 L44.44,306.01 L44.95,306.01 L45.46,306.01 L45.97,306.02 L46.48,306.02 L46.99,306.03 L47.5,306.03 L48.01,306.04 L48.52,306.04 L49.03,306.04 L49.54,306.05 L50.05,306.05 L50.56,306.06 L51.07,306.06 L51.58,306.06 L52.09,306.07 L52.6,306.07 L53.11,306.08 L53.62,306.08 L54.13,306.08 L54.64,306.09 L55.15,306.09 L55.66,306.09 L56.17,306.1 L56.68,306.1 L57.19,306.1 L57.7,306.11 L58.21,306.11 L58.72,306.11 L59.24,306.12 L59.75,306.12 L60.26,306.12 L60.77,306.13 L61.28,306.13 L61.79,306.13 L62.3,306.13 L62.81,306.14 L63.32,306.14 L63.83,306.14 L64.34,306.14 L64.85,306.15 L65.36,306.15 L65.87,306.15 L66.38,306.15 L66.89,306.16 L67.4,306.16 L67.91,306.16 L68.42,306.16 L68.93,306.16 L69.44,306.17 L69.95,306.17 L70.46,306.17 L70.97,306.17 L71.48,306.17 L71.99,306.17 L72.5,306.18 L73.01,306.18 L73.52,306.18 L74.03,306.18 L74.54,306.18 L75.05,306.18 L75.56,306.18 L76.07,306.18 L76.58,306.18 L77.09,306.18 L77.6,306.18 L78.11,306.18 L78.62,306.18 L79.13,306.18 L79.64,306.18 L80.15,306.18 L80.66,306.18 L81.17,306.18 L81.68,306.18 L82.19,306.18 L82.7,306.18 L83.21,306.18 L83.72,306.18 L84.23,306.18 L84.74,306.18 L85.25,306.18 L85.76,306.18 L86.27,306.18 L86.78,306.18 L87.29,306.18 L87.8,306.18 L88.31,306.18 L88.82,306.18 L89.33,306.18 L89.84,306.18 L90.35,306.18 L90.86,306.18 L91.37,306.18 L91.88,306.18 L92.39,306.18 L92.9,306.18 L93.41,306.18 L93.92,306.18 L94.43,306.18 L94.94,306.18 L95.45,306.18 L95.96,306.18 L96.47,306.18 L96.98,306.18 L97.49,306.18 L98,306.18 L98.51,306.18 L99.02,306.18 L99.53,306.18 L100.04,306.18 L100.55,306.18 L101.06,306.18 L101.57,306.18 L102.08,306.18 L102.59,306.18 L103.1,306.18 L103.61,306.18 L104.12,306.18 L104.63,306.18 L105.14,306.18 L105.65,306.18 L106.16,306.18 L106.67,306.18 L107.18,306.18 L107.69,306.18 L108.2,306.18 L108.71,306.18 L109.22,306.18 L109.73,306.18 L110.24,306.18 L110.75,306.18 L111.27,306.18 L111.78,306.15 L112.29,306.09 L112.8,306.01 L113.31,305.92 L113.82,305.78 L114.33,305.58 L114.84,305.32 L115.35,305.03 L115.86,304.7 L116.37,304.34 L116.88,303.96 L117.39,303.57 L117.9,303.19 L118.41,302.81 L118.92,302.44 L119.43,302.1 L119.94,301.77 L120.45,301.44 L120.96,301.11 L121.47,300.77 L121.98,300.43 L122.49,300.09 L123,299.74 L123.51,299.4 L124.02,299.07 L124.53,298.74 L125.04,298.41 L125.55,298.09 L126.06,297.78 L126.57,297.49 L127.08,297.2 L127.59,296.92 L128.1,296.65 L128.61,296.39 L129.12,296.14 L129.63,295.89 L130.14,295.64 L130.65,295.4 L131.16,295.16 L131.67,294.92 L132.18,294.68 L132.69,294.43 L133.2,294.19 L133.71,293.94 L134.22,293.68 L134.73,293.42 L135.24,293.15 L135.75,292.87 L136.26,292.58 L136.77,292.28 L137.28,291.97 L137.79,291.66 L138.3,291.34 L138.81,291.02 L139.32,290.7 L139.83,290.39 L140.34,290.07 L140.85,289.77 L141.36,289.47 L141.87,289.19 L142.38,288.91 L142.89,288.66 L143.4,288.42 L143.91,288.19 L144.42,287.97 L144.93,287.76 L145.44,287.55 L145.95,287.33 L146.46,287.1 L146.97,286.85 L147.48,286.58 L147.99,286.29 L148.5,285.97 L149.01,285.61 L149.52,285.23 L150.03,284.83 L150.54,284.41 L151.05,283.98 L151.56,283.55 L152.07,283.1 L152.58,282.66 L153.09,282.23 L153.6,281.8 L154.11,281.38 L154.62,280.99 L155.13,280.61 L155.64,280.23 L156.15,279.84 L156.66,279.46 L157.17,279.07 L157.68,278.69 L158.19,278.31 L158.7,277.93 L159.21,277.56 L159.72,277.19 L160.23,276.83 L160.74,276.49 L161.25,276.15 L161.76,275.83 L162.27,275.52 L162.78,275.22 L163.3,274.94 L163.81,274.68 L164.32,274.44 L164.83,274.22 L165.34,274.01" stroke="#2e1f5c" stroke-width="1.7" fill="none"/>
<circle cx="43.42" cy="306" r="1.1" fill="#2e1f5c"/>
<circle cx="46.64" cy="306.02" r="1.1" fill="#2e1f5c"/>
<circle cx="49.85" cy="306.05" r="1.1" fill="#2e1f5c"/>
<circle cx="53.06" cy="306.07" r="1.1" fill="#2e1f5c"/>
<circle cx="56.28" cy="306.1" r="1.1" fill="#2e1f5c"/>
<circle cx="59.49" cy="306.12" r="1.1" fill="#2e1f5c"/>
<circle cx="62.7" cy="306.14" r="1.1" fill="#2e1f5c"/>
<circle cx="65.92" cy="306.15" r="1.1" fill="#2e1f5c"/>
<circle cx="69.13" cy="306.17" r="1.1" fill="#2e1f5c"/>
<circle cx="72.35" cy="306.17" r="1.1" fill="#2e1f5c"/>
<circle cx="75.56" cy="306.18" r="1.1" fill="#2e1f5c"/>
<circle cx="78.77" cy="306.18" r="1.1" fill="#2e1f5c"/>
<circle cx="81.99" cy="306.18" r="1.1" fill="#2e1f5c"/>
<circle cx="85.2" cy="306.18" r="1.1" fill="#2e1f5c"/>
<circle cx="88.41" cy="306.18" r="1.1" fill="#2e1f5c"/>
<circle cx="91.63" cy="306.18" r="1.1" fill="#2e1f5c"/>
<circle cx="94.84" cy="306.18" r="1.1" fill="#2e1f5c"/>
<circle cx="98.05" cy="306.18" r="1.1" fill="#2e1f5c"/>
<circle cx="101.27" cy="306.18" r="1.1" fill="#2e1f5c"/>
<circle cx="104.48" cy="306.18" r="1.1" fill="#2e1f5c"/>
<circle cx="107.7" cy="306.18" r="1.1" fill="#2e1f5c"/>
<circle cx="110.91" cy="306.18" r="1.1" fill="#2e1f5c"/>
<circle cx="114.12" cy="305.66" r="1.1" fill="#2e1f5c"/>
<circle cx="117.34" cy="303.61" r="1.1" fill="#2e1f5c"/>
<circle cx="120.55" cy="301.38" r="1.1" fill="#2e1f5c"/>
<circle cx="123.76" cy="299.23" r="1.1" fill="#2e1f5c"/>
<circle cx="126.98" cy="297.25" r="1.1" fill="#2e1f5c"/>
<circle cx="130.19" cy="295.62" r="1.1" fill="#2e1f5c"/>
<circle cx="133.4" cy="294.09" r="1.1" fill="#2e1f5c"/>
<circle cx="136.62" cy="292.37" r="1.1" fill="#2e1f5c"/>
<circle cx="139.83" cy="290.39" r="1.1" fill="#2e1f5c"/>
<circle cx="143.05" cy="288.58" r="1.1" fill="#2e1f5c"/>
<circle cx="146.26" cy="287.19" r="1.1" fill="#2e1f5c"/>
<circle cx="149.47" cy="285.27" r="1.1" fill="#2e1f5c"/>
<circle cx="152.69" cy="282.57" r="1.1" fill="#2e1f5c"/>
<circle cx="155.9" cy="280.03" r="1.1" fill="#2e1f5c"/>
<circle cx="159.11" cy="277.63" r="1.1" fill="#2e1f5c"/>
<circle cx="162.33" cy="275.48" r="1.1" fill="#2e1f5c"/>
<path d="M37,301.06V306.92M35.9,301.06H38.1M35.9,306.92H38.1M40.21,301.96V307.81M39.11,301.96H41.31M39.11,307.81H41.31M43.43,302V307.85M42.33,302H44.53M42.33,307.85H44.53M46.64,301.79V307.64M45.54,301.79H47.74M45.54,307.64H47.74M49.85,300.12V305.98M48.75,300.12H50.95M48.75,305.98H50.95M53.07,291.02V296.88M51.97,291.02H54.17M51.97,296.88H54.17M56.28,278.54V284.4M55.18,278.54H57.38M55.18,284.4H57.38M59.5,265.45V271.31M58.4,265.45H60.6M58.4,271.31H60.6M62.71,252.51V258.37M61.61,252.51H63.81M61.61,258.37H63.81M65.92,246.63V252.49M64.82,246.63H67.02M64.82,252.49H67.02M69.14,244.91V250.77M68.04,244.91H70.24M68.04,250.77H70.24M72.35,244.05V249.91M71.25,244.05H73.45M71.25,249.91H73.45M75.56,243.48V249.33M74.46,243.48H76.66M74.46,249.33H76.66M78.78,243.05V248.91M77.68,243.05H79.88M77.68,248.91H79.88M81.99,242.68V248.54M80.89,242.68H83.09M80.89,248.54H83.09M85.21,242.35V248.21M84.11,242.35H86.31M84.11,248.21H86.31M88.42,242.07V247.93M87.32,242.07H89.52M87.32,247.93H89.52M91.63,241.82V247.68M90.53,241.82H92.73M90.53,247.68H92.73M94.85,241.61V247.46M93.75,241.61H95.95M93.75,247.46H95.95M98.06,241.41V247.27M96.96,241.41H99.16M96.96,247.27H99.16M101.27,241.24V247.09M100.17,241.24H102.37M100.17,247.09H102.37M104.49,241.07V246.93M103.39,241.07H105.59M103.39,246.93H105.59M107.7,240.92V246.77M106.6,240.92H108.8M106.6,246.77H108.8M110.91,240.77V246.62M109.81,240.77H112.01M109.81,246.62H112.01M114.13,240.63V246.49M113.03,240.63H115.23M113.03,246.49H115.23M117.34,240.5V246.36M116.24,240.5H118.44M116.24,246.36H118.44M120.56,240.39V246.24M119.46,240.39H121.66M119.46,246.24H121.66M123.77,240.28V246.14M122.67,240.28H124.87M122.67,246.14H124.87M126.98,240.19V246.04M125.88,240.19H128.08M125.88,246.04H128.08M130.2,240.11V245.96M129.1,240.11H131.3M129.1,245.96H131.3M133.41,240.03V245.89M132.31,240.03H134.51M132.31,245.89H134.51M136.62,239.97V245.82M135.52,239.97H137.72M135.52,245.82H137.72M139.84,239.9V245.76M138.74,239.9H140.94M138.74,245.76H140.94M143.05,239.84V245.7M141.95,239.84H144.15M141.95,245.7H144.15M146.26,239.78V245.64M145.16,239.78H147.36M145.16,245.64H147.36M149.48,239.73V245.59M148.38,239.73H150.58M148.38,245.59H150.58M152.69,239.68V245.54M151.59,239.68H153.79M151.59,245.54H153.79M155.91,239.64V245.5M154.81,239.64H157.01M154.81,245.5H157.01M159.12,239.61V245.47M158.02,239.61H160.22M158.02,245.47H160.22M162.33,239.59V245.44M161.23,239.59H163.43M161.23,245.44H163.43" stroke="#1a1a1a" stroke-width="0.65" fill="none"/>
<path d="M37,303.99 L37.54,304.17 L38.07,304.35 L38.61,304.51 L39.15,304.66 L39.68,304.79 L40.22,304.89 L40.76,304.95 L41.3,304.96 L41.83,304.96 L42.37,304.95 L42.91,304.94 L43.44,304.93 L43.98,304.9 L44.52,304.88 L45.05,304.84 L45.59,304.81 L46.13,304.76 L46.67,304.71 L47.2,304.66 L47.74,304.6 L48.28,304.53 L48.81,304.42 L49.35,303.92 L49.89,302.98 L50.42,301.72 L50.96,300.25 L51.5,298.65 L52.04,297.06 L52.57,295.51 L53.11,293.81 L53.65,291.94 L54.18,289.92 L54.72,287.8 L55.26,285.63 L55.79,283.44 L56.33,281.28 L56.87,279.16 L57.4,277 L57.94,274.82 L58.48,272.6 L59.02,270.38 L59.55,268.15 L60.09,265.9 L60.63,263.51 L61.16,261.11 L61.7,258.87 L62.24,256.96 L62.77,255.24 L63.31,253.65 L63.85,252.33 L64.39,251.4 L64.92,250.68 L65.46,250.04 L66,249.49 L66.53,249.03 L67.07,248.66 L67.61,248.39 L68.14,248.18 L68.68,247.99 L69.22,247.81 L69.76,247.65 L70.29,247.49 L70.83,247.34 L71.37,247.21 L71.9,247.08 L72.44,246.96 L72.98,246.85 L73.51,246.75 L74.05,246.65 L74.59,246.56 L75.12,246.47 L75.66,246.39 L76.2,246.31 L76.74,246.24 L77.27,246.17 L77.81,246.1 L78.35,246.03 L78.88,245.97 L79.42,245.9 L79.96,245.84 L80.49,245.78 L81.03,245.71 L81.57,245.65 L82.11,245.6 L82.64,245.54 L83.18,245.48 L83.72,245.43 L84.25,245.37 L84.79,245.32 L85.33,245.27 L85.86,245.22 L86.4,245.17 L86.94,245.12 L87.48,245.08 L88.01,245.03 L88.55,244.99 L89.09,244.94 L89.62,244.9 L90.16,244.86 L90.7,244.82 L91.23,244.78 L91.77,244.74 L92.31,244.7 L92.84,244.67 L93.38,244.63 L93.92,244.59 L94.46,244.56 L94.99,244.53 L95.53,244.49 L96.07,244.46 L96.6,244.43 L97.14,244.39 L97.68,244.36 L98.21,244.33 L98.75,244.3 L99.29,244.27 L99.83,244.24 L100.36,244.21 L100.9,244.19 L101.44,244.16 L101.97,244.13 L102.51,244.1 L103.05,244.07 L103.58,244.05 L104.12,244.02 L104.66,243.99 L105.19,243.97 L105.73,243.94 L106.27,243.91 L106.81,243.89 L107.34,243.86 L107.88,243.84 L108.42,243.81 L108.95,243.79 L109.49,243.76 L110.03,243.74 L110.56,243.71 L111.1,243.69 L111.64,243.66 L112.18,243.64 L112.71,243.62 L113.25,243.6 L113.79,243.57 L114.32,243.55 L114.86,243.53 L115.4,243.51 L115.93,243.49 L116.47,243.47 L117.01,243.44 L117.55,243.42 L118.08,243.4 L118.62,243.38 L119.16,243.36 L119.69,243.35 L120.23,243.33 L120.77,243.31 L121.3,243.29 L121.84,243.27 L122.38,243.25 L122.91,243.24 L123.45,243.22 L123.99,243.2 L124.53,243.19 L125.06,243.17 L125.6,243.15 L126.14,243.14 L126.67,243.12 L127.21,243.11 L127.75,243.09 L128.28,243.08 L128.82,243.07 L129.36,243.05 L129.9,243.04 L130.43,243.03 L130.97,243.02 L131.51,243 L132.04,242.99 L132.58,242.98 L133.12,242.97 L133.65,242.96 L134.19,242.95 L134.73,242.94 L135.27,242.92 L135.8,242.91 L136.34,242.9 L136.88,242.89 L137.41,242.88 L137.95,242.87 L138.49,242.86 L139.02,242.85 L139.56,242.84 L140.1,242.83 L140.63,242.82 L141.17,242.81 L141.71,242.79 L142.25,242.78 L142.78,242.77 L143.32,242.76 L143.86,242.75 L144.39,242.74 L144.93,242.73 L145.47,242.73 L146,242.72 L146.54,242.71 L147.08,242.7 L147.62,242.69 L148.15,242.68 L148.69,242.67 L149.23,242.66 L149.76,242.65 L150.3,242.65 L150.84,242.64 L151.37,242.63 L151.91,242.62 L152.45,242.61 L152.99,242.61 L153.52,242.6 L154.06,242.59 L154.6,242.59 L155.13,242.58 L155.67,242.57 L156.21,242.57 L156.74,242.56 L157.28,242.56 L157.82,242.55 L158.35,242.55 L158.89,242.54 L159.43,242.54 L159.97,242.53 L160.5,242.53 L161.04,242.52 L161.58,242.52 L162.11,242.52 L162.65,242.51 L163.19,242.51 L163.72,242.51 L164.26,242.51 L164.8,242.5 L165.34,242.5" stroke="#a8143e" stroke-width="1.7" fill="none"/>
<circle cx="37" cy="303.99" r="1.1" fill="#a8143e"/>
<circle cx="40.21" cy="304.88" r="1.1" fill="#a8143e"/>
<circle cx="43.43" cy="304.93" r="1.1" fill="#a8143e"/>
<circle cx="46.64" cy="304.72" r="1.1" fill="#a8143e"/>
<circle cx="49.85" cy="303.05" r="1.1" fill="#a8143e"/>
<circle cx="53.07" cy="293.95" r="1.1" fill="#a8143e"/>
<circle cx="56.28" cy="281.47" r="1.1" fill="#a8143e"/>
<circle cx="59.5" cy="268.38" r="1.1" fill="#a8143e"/>
<circle cx="62.71" cy="255.44" r="1.1" fill="#a8143e"/>
<circle cx="65.92" cy="249.56" r="1.1" fill="#a8143e"/>
<circle cx="69.14" cy="247.84" r="1.1" fill="#a8143e"/>
<circle cx="72.35" cy="246.98" r="1.1" fill="#a8143e"/>
<circle cx="75.56" cy="246.41" r="1.1" fill="#a8143e"/>
<circle cx="78.78" cy="245.98" r="1.1" fill="#a8143e"/>
<circle cx="81.99" cy="245.61" r="1.1" fill="#a8143e"/>
<circle cx="85.21" cy="245.28" r="1.1" fill="#a8143e"/>
<circle cx="88.42" cy="245" r="1.1" fill="#a8143e"/>
<circle cx="91.63" cy="244.75" r="1.1" fill="#a8143e"/>
<circle cx="94.85" cy="244.53" r="1.1" fill="#a8143e"/>
<circle cx="98.06" cy="244.34" r="1.1" fill="#a8143e"/>
<circle cx="101.27" cy="244.17" r="1.1" fill="#a8143e"/>
<circle cx="104.49" cy="244" r="1.1" fill="#a8143e"/>
<circle cx="107.7" cy="243.84" r="1.1" fill="#a8143e"/>
<circle cx="110.91" cy="243.7" r="1.1" fill="#a8143e"/>
<circle cx="114.13" cy="243.56" r="1.1" fill="#a8143e"/>
<circle cx="117.34" cy="243.43" r="1.1" fill="#a8143e"/>
<circle cx="120.56" cy="243.31" r="1.1" fill="#a8143e"/>
<circle cx="123.77" cy="243.21" r="1.1" fill="#a8143e"/>
<circle cx="126.98" cy="243.12" r="1.1" fill="#a8143e"/>
<circle cx="130.2" cy="243.03" r="1.1" fill="#a8143e"/>
<circle cx="133.41" cy="242.96" r="1.1" fill="#a8143e"/>
<circle cx="136.62" cy="242.9" r="1.1" fill="#a8143e"/>
<circle cx="139.84" cy="242.83" r="1.1" fill="#a8143e"/>
<circle cx="143.05" cy="242.77" r="1.1" fill="#a8143e"/>
<circle cx="146.26" cy="242.71" r="1.1" fill="#a8143e"/>
<circle cx="149.48" cy="242.66" r="1.1" fill="#a8143e"/>
<circle cx="152.69" cy="242.61" r="1.1" fill="#a8143e"/>
<circle cx="155.91" cy="242.57" r="1.1" fill="#a8143e"/>
<circle cx="159.12" cy="242.54" r="1.1" fill="#a8143e"/>
<circle cx="162.33" cy="242.51" r="1.1" fill="#a8143e"/>
<path d="M37,301.55V306.43M35.9,301.55H38.1M35.9,306.43H38.1M40.21,302.46V307.34M39.11,302.46H41.31M39.11,307.34H41.31M43.43,302.39V307.27M42.33,302.39H44.53M42.33,307.27H44.53M46.64,301.08V305.96M45.54,301.08H47.74M45.54,305.96H47.74M49.85,292.94V297.82M48.75,292.94H50.95M48.75,297.82H50.95M53.07,282.94V287.82M51.97,282.94H54.17M51.97,287.82H54.17M56.28,272.01V276.89M55.18,272.01H57.38M55.18,276.89H57.38M59.5,259.75V264.63M58.4,259.75H60.6M58.4,264.63H60.6M62.71,253.47V258.35M61.61,253.47H63.81M61.61,258.35H63.81M65.92,252.13V257.01M64.82,252.13H67.02M64.82,257.01H67.02M69.14,251.52V256.4M68.04,251.52H70.24M68.04,256.4H70.24M72.35,251.17V256.05M71.25,251.17H73.45M71.25,256.05H73.45M75.56,250.94V255.82M74.46,250.94H76.66M74.46,255.82H76.66M78.78,250.74V255.62M77.68,250.74H79.88M77.68,255.62H79.88M81.99,250.56V255.44M80.89,250.56H83.09M80.89,255.44H83.09M85.21,250.4V255.28M84.11,250.4H86.31M84.11,255.28H86.31M88.42,250.25V255.13M87.32,250.25H89.52M87.32,255.13H89.52M91.63,250.13V255.01M90.53,250.13H92.73M90.53,255.01H92.73M94.85,250.01V254.89M93.75,250.01H95.95M93.75,254.89H95.95M98.06,249.9V254.78M96.96,249.9H99.16M96.96,254.78H99.16M101.27,249.81V254.69M100.17,249.81H102.37M100.17,254.69H102.37M104.49,249.72V254.6M103.39,249.72H105.59M103.39,254.6H105.59M107.7,249.64V254.52M106.6,249.64H108.8M106.6,254.52H108.8M110.91,249.57V254.45M109.81,249.57H112.01M109.81,254.45H112.01M114.13,249.5V254.38M113.03,249.5H115.23M113.03,254.38H115.23M117.34,249.43V254.31M116.24,249.43H118.44M116.24,254.31H118.44M120.56,249.36V254.24M119.46,249.36H121.66M119.46,254.24H121.66M123.77,249.28V254.16M122.67,249.28H124.87M122.67,254.16H124.87M126.98,249.21V254.09M125.88,249.21H128.08M125.88,254.09H128.08M130.2,249.15V254.03M129.1,249.15H131.3M129.1,254.03H131.3M133.41,249.08V253.96M132.31,249.08H134.51M132.31,253.96H134.51M136.62,249.01V253.89M135.52,249.01H137.72M135.52,253.89H137.72M139.84,248.95V253.83M138.74,248.95H140.94M138.74,253.83H140.94M143.05,248.89V253.77M141.95,248.89H144.15M141.95,253.77H144.15M146.26,248.84V253.72M145.16,248.84H147.36M145.16,253.72H147.36M149.48,248.79V253.67M148.38,248.79H150.58M148.38,253.67H150.58M152.69,248.74V253.62M151.59,248.74H153.79M151.59,253.62H153.79M155.91,248.7V253.58M154.81,248.7H157.01M154.81,253.58H157.01M159.12,248.66V253.54M158.02,248.66H160.22M158.02,253.54H160.22M162.33,248.63V253.51M161.23,248.63H163.43M161.23,253.51H163.43" stroke="#1a1a1a" stroke-width="0.65" fill="none"/>
<path d="M37,303.99 L37.54,304.2 L38.07,304.39 L38.61,304.55 L39.15,304.7 L39.68,304.81 L40.22,304.9 L40.76,304.95 L41.3,304.96 L41.83,304.95 L42.37,304.93 L42.91,304.89 L43.44,304.83 L43.98,304.76 L44.52,304.67 L45.05,304.56 L45.59,304.44 L46.13,304.09 L46.67,303.49 L47.2,302.71 L47.74,301.82 L48.28,300.74 L48.81,299.18 L49.35,297.29 L49.89,295.26 L50.42,293.26 L50.96,291.47 L51.5,289.85 L52.04,288.3 L52.57,286.78 L53.11,285.26 L53.65,283.71 L54.18,282.09 L54.72,280.37 L55.26,278.49 L55.79,276.43 L56.33,274.25 L56.87,272.04 L57.4,269.9 L57.94,267.9 L58.48,265.94 L59.02,263.93 L59.55,262 L60.09,260.28 L60.63,258.9 L61.16,257.95 L61.7,257.14 L62.24,256.43 L62.77,255.84 L63.31,255.41 L63.85,255.16 L64.39,254.99 L64.92,254.83 L65.46,254.68 L66,254.55 L66.53,254.42 L67.07,254.31 L67.61,254.21 L68.14,254.11 L68.68,254.02 L69.22,253.94 L69.76,253.87 L70.29,253.81 L70.83,253.75 L71.37,253.69 L71.9,253.64 L72.44,253.6 L72.98,253.56 L73.51,253.52 L74.05,253.48 L74.59,253.44 L75.12,253.41 L75.66,253.37 L76.2,253.34 L76.74,253.3 L77.27,253.27 L77.81,253.24 L78.35,253.2 L78.88,253.17 L79.42,253.14 L79.96,253.11 L80.49,253.08 L81.03,253.05 L81.57,253.02 L82.11,252.99 L82.64,252.97 L83.18,252.94 L83.72,252.91 L84.25,252.88 L84.79,252.86 L85.33,252.83 L85.86,252.81 L86.4,252.78 L86.94,252.76 L87.48,252.74 L88.01,252.71 L88.55,252.69 L89.09,252.67 L89.62,252.64 L90.16,252.62 L90.7,252.6 L91.23,252.58 L91.77,252.56 L92.31,252.54 L92.84,252.52 L93.38,252.5 L93.92,252.48 L94.46,252.46 L94.99,252.44 L95.53,252.43 L96.07,252.41 L96.6,252.39 L97.14,252.37 L97.68,252.36 L98.21,252.34 L98.75,252.32 L99.29,252.31 L99.83,252.29 L100.36,252.28 L100.9,252.26 L101.44,252.25 L101.97,252.23 L102.51,252.22 L103.05,252.2 L103.58,252.19 L104.12,252.17 L104.66,252.16 L105.19,252.15 L105.73,252.13 L106.27,252.12 L106.81,252.11 L107.34,252.09 L107.88,252.08 L108.42,252.07 L108.95,252.05 L109.49,252.04 L110.03,252.03 L110.56,252.02 L111.1,252.01 L111.64,251.99 L112.18,251.98 L112.71,251.97 L113.25,251.96 L113.79,251.95 L114.32,251.93 L114.86,251.92 L115.4,251.91 L115.93,251.9 L116.47,251.89 L117.01,251.87 L117.55,251.86 L118.08,251.85 L118.62,251.84 L119.16,251.83 L119.69,251.82 L120.23,251.8 L120.77,251.79 L121.3,251.78 L121.84,251.77 L122.38,251.76 L122.91,251.74 L123.45,251.73 L123.99,251.72 L124.53,251.71 L125.06,251.7 L125.6,251.68 L126.14,251.67 L126.67,251.66 L127.21,251.65 L127.75,251.64 L128.28,251.63 L128.82,251.61 L129.36,251.6 L129.9,251.59 L130.43,251.58 L130.97,251.57 L131.51,251.56 L132.04,251.55 L132.58,251.54 L133.12,251.52 L133.65,251.51 L134.19,251.5 L134.73,251.49 L135.27,251.48 L135.8,251.47 L136.34,251.46 L136.88,251.45 L137.41,251.44 L137.95,251.43 L138.49,251.42 L139.02,251.41 L139.56,251.4 L140.1,251.39 L140.63,251.38 L141.17,251.37 L141.71,251.36 L142.25,251.35 L142.78,251.34 L143.32,251.33 L143.86,251.32 L144.39,251.31 L144.93,251.3 L145.47,251.29 L146,251.28 L146.54,251.28 L147.08,251.27 L147.62,251.26 L148.15,251.25 L148.69,251.24 L149.23,251.23 L149.76,251.22 L150.3,251.22 L150.84,251.21 L151.37,251.2 L151.91,251.19 L152.45,251.19 L152.99,251.18 L153.52,251.17 L154.06,251.16 L154.6,251.16 L155.13,251.15 L155.67,251.14 L156.21,251.14 L156.74,251.13 L157.28,251.12 L157.82,251.12 L158.35,251.11 L158.89,251.11 L159.43,251.1 L159.97,251.09 L160.5,251.09 L161.04,251.08 L161.58,251.08 L162.11,251.07 L162.65,251.07 L163.19,251.06 L163.72,251.06 L164.26,251.05 L164.8,251.05 L165.34,251.05" stroke="#7cb45a" stroke-width="1.7" fill="none"/>
<circle cx="37" cy="303.99" r="1.1" fill="#7cb45a"/>
<circle cx="40.21" cy="304.9" r="1.1" fill="#7cb45a"/>
<circle cx="43.43" cy="304.83" r="1.1" fill="#7cb45a"/>
<circle cx="46.64" cy="303.52" r="1.1" fill="#7cb45a"/>
<circle cx="49.85" cy="295.38" r="1.1" fill="#7cb45a"/>
<circle cx="53.07" cy="285.38" r="1.1" fill="#7cb45a"/>
<circle cx="56.28" cy="274.45" r="1.1" fill="#7cb45a"/>
<circle cx="59.5" cy="262.19" r="1.1" fill="#7cb45a"/>
<circle cx="62.71" cy="255.91" r="1.1" fill="#7cb45a"/>
<circle cx="65.92" cy="254.57" r="1.1" fill="#7cb45a"/>
<circle cx="69.14" cy="253.96" r="1.1" fill="#7cb45a"/>
<circle cx="72.35" cy="253.61" r="1.1" fill="#7cb45a"/>
<circle cx="75.56" cy="253.38" r="1.1" fill="#7cb45a"/>
<circle cx="78.78" cy="253.18" r="1.1" fill="#7cb45a"/>
<circle cx="81.99" cy="253" r="1.1" fill="#7cb45a"/>
<circle cx="85.21" cy="252.84" r="1.1" fill="#7cb45a"/>
<circle cx="88.42" cy="252.69" r="1.1" fill="#7cb45a"/>
<circle cx="91.63" cy="252.57" r="1.1" fill="#7cb45a"/>
<circle cx="94.85" cy="252.45" r="1.1" fill="#7cb45a"/>
<circle cx="98.06" cy="252.34" r="1.1" fill="#7cb45a"/>
<circle cx="101.27" cy="252.25" r="1.1" fill="#7cb45a"/>
<circle cx="104.49" cy="252.16" r="1.1" fill="#7cb45a"/>
<circle cx="107.7" cy="252.08" r="1.1" fill="#7cb45a"/>
<circle cx="110.91" cy="252.01" r="1.1" fill="#7cb45a"/>
<circle cx="114.13" cy="251.94" r="1.1" fill="#7cb45a"/>
<circle cx="117.34" cy="251.87" r="1.1" fill="#7cb45a"/>
<circle cx="120.56" cy="251.8" r="1.1" fill="#7cb45a"/>
<circle cx="123.77" cy="251.72" r="1.1" fill="#7cb45a"/>
<circle cx="126.98" cy="251.65" r="1.1" fill="#7cb45a"/>
<circle cx="130.2" cy="251.59" r="1.1" fill="#7cb45a"/>
<circle cx="133.41" cy="251.52" r="1.1" fill="#7cb45a"/>
<circle cx="136.62" cy="251.45" r="1.1" fill="#7cb45a"/>
<circle cx="139.84" cy="251.39" r="1.1" fill="#7cb45a"/>
<circle cx="143.05" cy="251.33" r="1.1" fill="#7cb45a"/>
<circle cx="146.26" cy="251.28" r="1.1" fill="#7cb45a"/>
<circle cx="149.48" cy="251.23" r="1.1" fill="#7cb45a"/>
<circle cx="152.69" cy="251.18" r="1.1" fill="#7cb45a"/>
<circle cx="155.91" cy="251.14" r="1.1" fill="#7cb45a"/>
<circle cx="159.12" cy="251.1" r="1.1" fill="#7cb45a"/>
<circle cx="162.33" cy="251.07" r="1.1" fill="#7cb45a"/>
<path d="M37,301.06V305.94M35.9,301.06H38.1M35.9,305.94H38.1M40.21,301.06V305.94M39.11,301.06H41.31M39.11,305.94H41.31M43.43,292.08V296.96M42.33,292.08H44.53M42.33,296.96H44.53M46.64,275.62V280.5M45.54,275.62H47.74M45.54,280.5H47.74M49.85,257.11V261.99M48.75,257.11H50.95M48.75,261.99H50.95M53.07,250.98V255.86M51.97,250.98H54.17M51.97,255.86H54.17M56.28,250.25V255.13M55.18,250.25H57.38M55.18,255.13H57.38M59.5,249.81V254.69M58.4,249.81H60.6M58.4,254.69H60.6M62.71,249.44V254.32M61.61,249.44H63.81M61.61,254.32H63.81M65.92,249.15V254.03M64.82,249.15H67.02M64.82,254.03H67.02M69.14,248.92V253.8M68.04,248.92H70.24M68.04,253.8H70.24M72.35,248.73V253.61M71.25,248.73H73.45M71.25,253.61H73.45M75.56,248.58V253.46M74.46,248.58H76.66M74.46,253.46H76.66M78.78,248.45V253.33M77.68,248.45H79.88M77.68,253.33H79.88M81.99,248.33V253.21M80.89,248.33H83.09M80.89,253.21H83.09M85.21,248.22V253.1M84.11,248.22H86.31M84.11,253.1H86.31M88.42,248.11V252.99M87.32,248.11H89.52M87.32,252.99H89.52M91.63,248.02V252.9M90.53,248.02H92.73M90.53,252.9H92.73M94.85,247.94V252.82M93.75,247.94H95.95M93.75,252.82H95.95M98.06,247.86V252.74M96.96,247.86H99.16M96.96,252.74H99.16M101.27,247.79V252.67M100.17,247.79H102.37M100.17,252.67H102.37M104.49,247.72V252.6M103.39,247.72H105.59M103.39,252.6H105.59M107.7,247.65V252.53M106.6,247.65H108.8M106.6,252.53H108.8M110.91,247.59V252.47M109.81,247.59H112.01M109.81,252.47H112.01M114.13,247.53V252.41M113.03,247.53H115.23M113.03,252.41H115.23M117.34,247.46V252.34M116.24,247.46H118.44M116.24,252.34H118.44M120.56,247.4V252.28M119.46,247.4H121.66M119.46,252.28H121.66M123.77,247.34V252.22M122.67,247.34H124.87M122.67,252.22H124.87M126.98,247.27V252.15M125.88,247.27H128.08M125.88,252.15H128.08M130.2,247.21V252.09M129.1,247.21H131.3M129.1,252.09H131.3M133.41,247.15V252.03M132.31,247.15H134.51M132.31,252.03H134.51M136.62,247.09V251.97M135.52,247.09H137.72M135.52,251.97H137.72M139.84,247.04V251.92M138.74,247.04H140.94M138.74,251.92H140.94M143.05,246.98V251.86M141.95,246.98H144.15M141.95,251.86H144.15M146.26,246.93V251.81M145.16,246.93H147.36M145.16,251.81H147.36M149.48,246.88V251.76M148.38,246.88H150.58M148.38,251.76H150.58M152.69,246.83V251.71M151.59,246.83H153.79M151.59,251.71H153.79M155.91,246.78V251.66M154.81,246.78H157.01M154.81,251.66H157.01M159.12,246.74V251.62M158.02,246.74H160.22M158.02,251.62H160.22M162.33,246.69V251.57M161.23,246.69H163.43M161.23,251.57H163.43" stroke="#1a1a1a" stroke-width="0.65" fill="none"/>
<path d="M37,303.5 L37.54,303.5 L38.07,303.5 L38.61,303.5 L39.15,303.5 L39.68,303.5 L40.22,303.5 L40.76,303.5 L41.3,303.32 L41.83,302.07 L42.37,299.93 L42.91,297.27 L43.44,294.44 L43.98,291.8 L44.52,289.3 L45.05,286.65 L45.59,283.86 L46.13,280.95 L46.67,277.92 L47.2,274.76 L47.74,271.04 L48.28,267.24 L48.81,264.14 L49.35,261.73 L49.89,259.41 L50.42,257.33 L50.96,255.62 L51.5,254.44 L52.04,253.9 L52.57,253.63 L53.11,253.41 L53.65,253.23 L54.18,253.08 L54.72,252.96 L55.26,252.86 L55.79,252.77 L56.33,252.69 L56.87,252.61 L57.4,252.53 L57.94,252.45 L58.48,252.38 L59.02,252.31 L59.55,252.24 L60.09,252.17 L60.63,252.11 L61.16,252.05 L61.7,251.99 L62.24,251.93 L62.77,251.88 L63.31,251.82 L63.85,251.77 L64.39,251.72 L64.92,251.67 L65.46,251.63 L66,251.58 L66.53,251.54 L67.07,251.5 L67.61,251.46 L68.14,251.42 L68.68,251.39 L69.22,251.35 L69.76,251.32 L70.29,251.29 L70.83,251.25 L71.37,251.22 L71.9,251.19 L72.44,251.17 L72.98,251.14 L73.51,251.11 L74.05,251.09 L74.59,251.06 L75.12,251.04 L75.66,251.02 L76.2,250.99 L76.74,250.97 L77.27,250.95 L77.81,250.93 L78.35,250.9 L78.88,250.88 L79.42,250.86 L79.96,250.84 L80.49,250.82 L81.03,250.8 L81.57,250.78 L82.11,250.76 L82.64,250.74 L83.18,250.72 L83.72,250.71 L84.25,250.69 L84.79,250.67 L85.33,250.65 L85.86,250.63 L86.4,250.62 L86.94,250.6 L87.48,250.58 L88.01,250.57 L88.55,250.55 L89.09,250.53 L89.62,250.52 L90.16,250.5 L90.7,250.49 L91.23,250.47 L91.77,250.46 L92.31,250.44 L92.84,250.43 L93.38,250.42 L93.92,250.4 L94.46,250.39 L94.99,250.37 L95.53,250.36 L96.07,250.35 L96.6,250.33 L97.14,250.32 L97.68,250.31 L98.21,250.3 L98.75,250.28 L99.29,250.27 L99.83,250.26 L100.36,250.25 L100.9,250.23 L101.44,250.22 L101.97,250.21 L102.51,250.2 L103.05,250.19 L103.58,250.18 L104.12,250.17 L104.66,250.15 L105.19,250.14 L105.73,250.13 L106.27,250.12 L106.81,250.11 L107.34,250.1 L107.88,250.09 L108.42,250.08 L108.95,250.07 L109.49,250.06 L110.03,250.05 L110.56,250.04 L111.1,250.03 L111.64,250.02 L112.18,250 L112.71,249.99 L113.25,249.98 L113.79,249.97 L114.32,249.96 L114.86,249.95 L115.4,249.94 L115.93,249.93 L116.47,249.92 L117.01,249.91 L117.55,249.9 L118.08,249.89 L118.62,249.88 L119.16,249.87 L119.69,249.86 L120.23,249.85 L120.77,249.84 L121.3,249.83 L121.84,249.82 L122.38,249.81 L122.91,249.79 L123.45,249.78 L123.99,249.77 L124.53,249.76 L125.06,249.75 L125.6,249.74 L126.14,249.73 L126.67,249.72 L127.21,249.71 L127.75,249.7 L128.28,249.69 L128.82,249.68 L129.36,249.67 L129.9,249.66 L130.43,249.65 L130.97,249.64 L131.51,249.63 L132.04,249.62 L132.58,249.61 L133.12,249.6 L133.65,249.59 L134.19,249.58 L134.73,249.57 L135.27,249.56 L135.8,249.55 L136.34,249.54 L136.88,249.53 L137.41,249.52 L137.95,249.51 L138.49,249.5 L139.02,249.49 L139.56,249.48 L140.1,249.47 L140.63,249.46 L141.17,249.45 L141.71,249.44 L142.25,249.43 L142.78,249.43 L143.32,249.42 L143.86,249.41 L144.39,249.4 L144.93,249.39 L145.47,249.38 L146,249.37 L146.54,249.36 L147.08,249.35 L147.62,249.35 L148.15,249.34 L148.69,249.33 L149.23,249.32 L149.76,249.31 L150.3,249.3 L150.84,249.29 L151.37,249.29 L151.91,249.28 L152.45,249.27 L152.99,249.26 L153.52,249.25 L154.06,249.25 L154.6,249.24 L155.13,249.23 L155.67,249.22 L156.21,249.22 L156.74,249.21 L157.28,249.2 L157.82,249.19 L158.35,249.19 L158.89,249.18 L159.43,249.17 L159.97,249.16 L160.5,249.16 L161.04,249.15 L161.58,249.14 L162.11,249.14 L162.65,249.13 L163.19,249.12 L163.72,249.12 L164.26,249.11 L164.8,249.1 L165.34,249.1" stroke="#1c5a6a" stroke-width="1.7" fill="none"/>
<circle cx="37" cy="303.5" r="1.1" fill="#1c5a6a"/>
<circle cx="40.21" cy="303.5" r="1.1" fill="#1c5a6a"/>
<circle cx="43.43" cy="294.52" r="1.1" fill="#1c5a6a"/>
<circle cx="46.64" cy="278.06" r="1.1" fill="#1c5a6a"/>
<circle cx="49.85" cy="259.55" r="1.1" fill="#1c5a6a"/>
<circle cx="53.07" cy="253.42" r="1.1" fill="#1c5a6a"/>
<circle cx="56.28" cy="252.69" r="1.1" fill="#1c5a6a"/>
<circle cx="59.5" cy="252.25" r="1.1" fill="#1c5a6a"/>
<circle cx="62.71" cy="251.88" r="1.1" fill="#1c5a6a"/>
<circle cx="65.92" cy="251.59" r="1.1" fill="#1c5a6a"/>
<circle cx="69.14" cy="251.36" r="1.1" fill="#1c5a6a"/>
<circle cx="72.35" cy="251.17" r="1.1" fill="#1c5a6a"/>
<circle cx="75.56" cy="251.02" r="1.1" fill="#1c5a6a"/>
<circle cx="78.78" cy="250.89" r="1.1" fill="#1c5a6a"/>
<circle cx="81.99" cy="250.77" r="1.1" fill="#1c5a6a"/>
<circle cx="85.21" cy="250.66" r="1.1" fill="#1c5a6a"/>
<circle cx="88.42" cy="250.55" r="1.1" fill="#1c5a6a"/>
<circle cx="91.63" cy="250.46" r="1.1" fill="#1c5a6a"/>
<circle cx="94.85" cy="250.38" r="1.1" fill="#1c5a6a"/>
<circle cx="98.06" cy="250.3" r="1.1" fill="#1c5a6a"/>
<circle cx="101.27" cy="250.23" r="1.1" fill="#1c5a6a"/>
<circle cx="104.49" cy="250.16" r="1.1" fill="#1c5a6a"/>
<circle cx="107.7" cy="250.09" r="1.1" fill="#1c5a6a"/>
<circle cx="110.91" cy="250.03" r="1.1" fill="#1c5a6a"/>
<circle cx="114.13" cy="249.97" r="1.1" fill="#1c5a6a"/>
<circle cx="117.34" cy="249.9" r="1.1" fill="#1c5a6a"/>
<circle cx="120.56" cy="249.84" r="1.1" fill="#1c5a6a"/>
<circle cx="123.77" cy="249.78" r="1.1" fill="#1c5a6a"/>
<circle cx="126.98" cy="249.71" r="1.1" fill="#1c5a6a"/>
<circle cx="130.2" cy="249.65" r="1.1" fill="#1c5a6a"/>
<circle cx="133.41" cy="249.59" r="1.1" fill="#1c5a6a"/>
<circle cx="136.62" cy="249.53" r="1.1" fill="#1c5a6a"/>
<circle cx="139.84" cy="249.48" r="1.1" fill="#1c5a6a"/>
<circle cx="143.05" cy="249.42" r="1.1" fill="#1c5a6a"/>
<circle cx="146.26" cy="249.37" r="1.1" fill="#1c5a6a"/>
<circle cx="149.48" cy="249.32" r="1.1" fill="#1c5a6a"/>
<circle cx="152.69" cy="249.27" r="1.1" fill="#1c5a6a"/>
<circle cx="155.91" cy="249.22" r="1.1" fill="#1c5a6a"/>
<circle cx="159.12" cy="249.18" r="1.1" fill="#1c5a6a"/>
<circle cx="162.33" cy="249.13" r="1.1" fill="#1c5a6a"/>
<path d="M46.63,304.47V305.94M45.53,304.47H47.73M45.53,305.94H47.73M49.84,304.48V305.94M48.74,304.48H50.94M48.74,305.94H50.94M53.06,304.48V305.94M51.96,304.48H54.16M51.96,305.94H54.16M56.27,304.48V305.94M55.17,304.48H57.37M55.17,305.94H57.37M59.48,304.48V305.94M58.38,304.48H60.58M58.38,305.94H60.58M62.7,304.48V305.94M61.6,304.48H63.8M61.6,305.94H63.8M65.91,304.06V305.53M64.81,304.06H67.01M64.81,305.53H67.01M69.12,300.28V301.75M68.02,300.28H70.22M68.02,301.75H70.22M72.34,289.05V298.81M71.24,289.05H73.44M71.24,298.81H73.44M75.55,280.61V297.69M74.45,280.61H76.65M74.45,297.69H76.65M78.76,278.75V295.83M77.66,278.75H79.86M77.66,295.83H79.86M81.98,274.95V296.91M80.88,274.95H83.08M80.88,296.91H83.08M85.19,273.66V295.62M84.09,273.66H86.29M84.09,295.62H86.29M88.41,272.35V294.31M87.31,272.35H89.51M87.31,294.31H89.51M91.62,270.24V292.2M90.52,270.24H92.72M90.52,292.2H92.72M94.83,266.84V288.8M93.73,266.84H95.93M93.73,288.8H95.93M98.05,262.75V284.71M96.95,262.75H99.15M96.95,284.71H99.15M101.26,258.01V279.97M100.16,258.01H102.36M100.16,279.97H102.36M104.47,252.37V274.33M103.37,252.37H105.57M103.37,274.33H105.57M107.69,245.78V267.74M106.59,245.78H108.79M106.59,267.74H108.79M110.9,236.9V258.86M109.8,236.9H112M109.8,258.86H112M114.11,234.43V244.19M113.01,234.43H115.21M113.01,244.19H115.21M117.33,229.61V239.37M116.23,229.61H118.43M116.23,239.37H118.43M120.54,228.75V234.12M119.44,228.75H121.64M119.44,234.12H121.64M123.76,226.63V232M122.66,226.63H124.86M122.66,232H124.86M126.97,224.6V229.96M125.87,224.6H128.07M125.87,229.96H128.07M130.18,222.87V228.23M129.08,222.87H131.28M129.08,228.23H131.28M133.4,222.08V227.45M132.3,222.08H134.5M132.3,227.45H134.5M136.61,221.51V226.88M135.51,221.51H137.71M135.51,226.88H137.71M139.82,221.09V226.46M138.72,221.09H140.92M138.72,226.46H140.92M143.04,220.76V226.13M141.94,220.76H144.14M141.94,226.13H144.14M146.25,220.46V225.83M145.15,220.46H147.35M145.15,225.83H147.35M149.47,220.17V225.54M148.37,220.17H150.57M148.37,225.54H150.57M152.68,219.9V225.27M151.58,219.9H153.78M151.58,225.27H153.78M155.89,219.68V225.04M154.79,219.68H156.99M154.79,225.04H156.99M159.11,219.5V224.86M158.01,219.5H160.21M158.01,224.86H160.21M162.32,219.37V224.74M161.22,219.37H163.42M161.22,224.74H163.42" stroke="#1a1a1a" stroke-width="0.65" fill="none"/>
<path d="M46.63,305.2 L47.12,305.21 L47.62,305.21 L48.12,305.21 L48.61,305.21 L49.11,305.21 L49.61,305.21 L50.1,305.21 L50.6,305.21 L51.1,305.21 L51.59,305.21 L52.09,305.21 L52.59,305.21 L53.08,305.21 L53.58,305.21 L54.08,305.21 L54.57,305.21 L55.07,305.21 L55.57,305.21 L56.06,305.21 L56.56,305.21 L57.06,305.21 L57.55,305.21 L58.05,305.21 L58.55,305.21 L59.04,305.21 L59.54,305.21 L60.04,305.21 L60.53,305.21 L61.03,305.21 L61.53,305.21 L62.03,305.21 L62.52,305.21 L63.02,305.21 L63.52,305.21 L64.01,305.21 L64.51,305.21 L65.01,305.15 L65.5,304.99 L66,304.75 L66.5,304.43 L66.99,304.07 L67.49,303.66 L67.99,303.17 L68.48,302.38 L68.98,301.35 L69.48,300.16 L69.97,298.91 L70.47,297.69 L70.97,296.59 L71.46,295.64 L71.96,294.67 L72.46,293.7 L72.95,292.75 L73.45,291.85 L73.95,291.02 L74.44,290.29 L74.94,289.69 L75.44,289.24 L75.93,288.86 L76.43,288.53 L76.93,288.22 L77.42,287.94 L77.92,287.69 L78.42,287.45 L78.91,287.23 L79.41,287.02 L79.91,286.81 L80.4,286.61 L80.9,286.4 L81.4,286.19 L81.89,285.97 L82.39,285.74 L82.89,285.53 L83.38,285.32 L83.88,285.13 L84.38,284.94 L84.87,284.76 L85.37,284.58 L85.87,284.39 L86.36,284.2 L86.86,284.01 L87.36,283.81 L87.85,283.59 L88.35,283.36 L88.85,283.11 L89.34,282.84 L89.84,282.55 L90.34,282.23 L90.83,281.87 L91.33,281.47 L91.83,281.04 L92.32,280.57 L92.82,280.08 L93.32,279.56 L93.81,279.01 L94.31,278.44 L94.81,277.85 L95.3,277.25 L95.8,276.63 L96.3,276 L96.79,275.36 L97.29,274.72 L97.79,274.07 L98.28,273.42 L98.78,272.74 L99.28,272.04 L99.77,271.31 L100.27,270.56 L100.77,269.79 L101.26,268.99 L101.76,268.17 L102.26,267.33 L102.75,266.47 L103.25,265.59 L103.75,264.69 L104.24,263.78 L104.74,262.85 L105.24,261.91 L105.73,260.94 L106.23,259.93 L106.73,258.89 L107.22,257.8 L107.72,256.68 L108.22,255.52 L108.71,254.3 L109.21,253.02 L109.71,251.6 L110.2,250.07 L110.7,248.51 L111.2,246.97 L111.69,245.52 L112.19,244.18 L112.69,242.85 L113.18,241.54 L113.68,240.3 L114.18,239.17 L114.67,238.2 L115.17,237.38 L115.67,236.64 L116.16,235.94 L116.66,235.29 L117.16,234.69 L117.65,234.12 L118.15,233.59 L118.65,233.09 L119.14,232.62 L119.64,232.18 L120.14,231.76 L120.63,231.37 L121.13,231 L121.63,230.65 L122.12,230.32 L122.62,230.01 L123.12,229.7 L123.61,229.4 L124.11,229.11 L124.61,228.81 L125.1,228.51 L125.6,228.21 L126.1,227.89 L126.59,227.55 L127.09,227.19 L127.59,226.84 L128.08,226.51 L128.58,226.2 L129.08,225.94 L129.57,225.73 L130.07,225.58 L130.57,225.44 L131.06,225.31 L131.56,225.18 L132.06,225.06 L132.55,224.95 L133.05,224.84 L133.55,224.74 L134.04,224.64 L134.54,224.54 L135.04,224.45 L135.53,224.37 L136.03,224.29 L136.53,224.21 L137.02,224.13 L137.52,224.06 L138.02,224 L138.51,223.93 L139.01,223.87 L139.51,223.81 L140,223.76 L140.5,223.7 L141,223.65 L141.49,223.6 L141.99,223.55 L142.49,223.5 L142.98,223.45 L143.48,223.4 L143.98,223.36 L144.47,223.31 L144.97,223.26 L145.47,223.21 L145.96,223.17 L146.46,223.12 L146.96,223.08 L147.45,223.03 L147.95,222.99 L148.45,222.94 L148.94,222.9 L149.44,222.85 L149.94,222.81 L150.43,222.77 L150.93,222.73 L151.43,222.69 L151.92,222.65 L152.42,222.61 L152.92,222.57 L153.41,222.53 L153.91,222.49 L154.41,222.46 L154.91,222.42 L155.4,222.39 L155.9,222.36 L156.4,222.33 L156.89,222.3 L157.39,222.27 L157.89,222.24 L158.38,222.22 L158.88,222.19 L159.38,222.17 L159.87,222.14 L160.37,222.12 L160.87,222.1 L161.36,222.09 L161.86,222.07 L162.36,222.06 L162.85,222.04 L163.35,222.03 L163.85,222.02 L164.34,222.02 L164.84,222.01 L165.34,222.01" stroke="#c4287e" stroke-width="1.7" fill="none"/>
<circle cx="46.63" cy="305.2" r="1.1" fill="#c4287e"/>
<circle cx="49.84" cy="305.21" r="1.1" fill="#c4287e"/>
<circle cx="53.06" cy="305.21" r="1.1" fill="#c4287e"/>
<circle cx="56.27" cy="305.21" r="1.1" fill="#c4287e"/>
<circle cx="59.48" cy="305.21" r="1.1" fill="#c4287e"/>
<circle cx="62.7" cy="305.21" r="1.1" fill="#c4287e"/>
<circle cx="65.91" cy="304.8" r="1.1" fill="#c4287e"/>
<circle cx="69.12" cy="301.01" r="1.1" fill="#c4287e"/>
<circle cx="72.34" cy="293.93" r="1.1" fill="#c4287e"/>
<circle cx="75.55" cy="289.15" r="1.1" fill="#c4287e"/>
<circle cx="78.76" cy="287.29" r="1.1" fill="#c4287e"/>
<circle cx="81.98" cy="285.93" r="1.1" fill="#c4287e"/>
<circle cx="85.19" cy="284.64" r="1.1" fill="#c4287e"/>
<circle cx="88.41" cy="283.33" r="1.1" fill="#c4287e"/>
<circle cx="91.62" cy="281.22" r="1.1" fill="#c4287e"/>
<circle cx="94.83" cy="277.82" r="1.1" fill="#c4287e"/>
<circle cx="98.05" cy="273.73" r="1.1" fill="#c4287e"/>
<circle cx="101.26" cy="268.99" r="1.1" fill="#c4287e"/>
<circle cx="104.47" cy="263.35" r="1.1" fill="#c4287e"/>
<circle cx="107.69" cy="256.76" r="1.1" fill="#c4287e"/>
<circle cx="110.9" cy="247.88" r="1.1" fill="#c4287e"/>
<circle cx="114.11" cy="239.31" r="1.1" fill="#c4287e"/>
<circle cx="117.33" cy="234.49" r="1.1" fill="#c4287e"/>
<circle cx="120.54" cy="231.44" r="1.1" fill="#c4287e"/>
<circle cx="123.76" cy="229.32" r="1.1" fill="#c4287e"/>
<circle cx="126.97" cy="227.28" r="1.1" fill="#c4287e"/>
<circle cx="130.18" cy="225.55" r="1.1" fill="#c4287e"/>
<circle cx="133.4" cy="224.77" r="1.1" fill="#c4287e"/>
<circle cx="136.61" cy="224.2" r="1.1" fill="#c4287e"/>
<circle cx="139.82" cy="223.78" r="1.1" fill="#c4287e"/>
<circle cx="143.04" cy="223.45" r="1.1" fill="#c4287e"/>
<circle cx="146.25" cy="223.14" r="1.1" fill="#c4287e"/>
<circle cx="149.47" cy="222.85" r="1.1" fill="#c4287e"/>
<circle cx="152.68" cy="222.59" r="1.1" fill="#c4287e"/>
<circle cx="155.89" cy="222.36" r="1.1" fill="#c4287e"/>
<circle cx="159.11" cy="222.18" r="1.1" fill="#c4287e"/>
<circle cx="162.32" cy="222.06" r="1.1" fill="#c4287e"/>
<line x1="40.6" y1="211.5" x2="50" y2="211.5" stroke="#1c5a6a" stroke-width="1.5"/>
<path d="M43.7,211.5L45.3,209.9L46.9,211.5L45.3,213.1Z" fill="#123c44"/>
<line x1="40.6" y1="220.4" x2="50" y2="220.4" stroke="#c4287e" stroke-width="1.5"/>
<path d="M43.7,220.4L45.3,218.8L46.9,220.4L45.3,222Z" fill="#8a1450"/>
<line x1="40.6" y1="228.3" x2="50" y2="228.3" stroke="#2e1f5c" stroke-width="1.5"/>
<path d="M43.7,228.3L45.3,226.7L46.9,228.3L45.3,229.9Z" fill="#1a1040"/>
<line x1="40.6" y1="236.2" x2="50" y2="236.2" stroke="#e6ac3a" stroke-width="1.5"/>
<path d="M43.7,236.2L45.3,234.6L46.9,236.2L45.3,237.8Z" fill="#b08a20"/>
<text x="52.5" y="213.25" font-size="5" stroke="#222" stroke-width="0.2" textLength="32.5" lengthAdjust="spacingAndGlyphs" fill="#222">Buffer control</text>
<text x="52.5" y="222.15" font-size="5" stroke="#222" stroke-width="0.2" textLength="5.5" lengthAdjust="spacingAndGlyphs" fill="#222">50</text>
<text x="52.5" y="230.25" font-size="5" stroke="#222" stroke-width="0.2" textLength="8.5" lengthAdjust="spacingAndGlyphs" fill="#222">100</text>
<text x="52.5" y="237.95" font-size="5" stroke="#222" stroke-width="0.2" textLength="8.5" lengthAdjust="spacingAndGlyphs" fill="#222">200</text>
<line x1="65.2" y1="219.4" x2="65.2" y2="237.4" stroke="#1a1a1a" stroke-width="1.0"/>
<text x="70.3" y="222.15" font-size="5" stroke="#222" stroke-width="0.2" textLength="11.4" lengthAdjust="spacingAndGlyphs" fill="#222">Prot-</text>
<text x="68.5" y="229.95" font-size="5" stroke="#222" stroke-width="0.2" textLength="15.5" lengthAdjust="spacingAndGlyphs" fill="#222">amine</text>
<text x="67" y="237.35" font-size="5" stroke="#222" stroke-width="0.2" textLength="18" lengthAdjust="spacingAndGlyphs" fill="#222">(µg/mL)</text>
<line x1="95.3" y1="211.1" x2="104.6" y2="211.1" stroke="#7cb45a" stroke-width="1.5"/>
<path d="M98.35,211.1L99.95,209.5L101.55,211.1L99.95,212.7Z" fill="#4a8a30"/>
<line x1="95.3" y1="218.4" x2="104.6" y2="218.4" stroke="#a8143e" stroke-width="1.5"/>
<path d="M98.35,218.4L99.95,216.8L101.55,218.4L99.95,220Z" fill="#6a0a24"/>
<text x="106.7" y="212.15" font-size="5" stroke="#222" stroke-width="0.2" textLength="8.1" lengthAdjust="spacingAndGlyphs" fill="#222">500</text>
<text x="105.6" y="219.85" font-size="5" stroke="#222" stroke-width="0.2" textLength="12.5" lengthAdjust="spacingAndGlyphs" fill="#222">1000</text>
<line x1="119.6" y1="208.6" x2="119.6" y2="219.8" stroke="#1a1a1a" stroke-width="1.0"/>
<text x="122.9" y="212.15" font-size="5" stroke="#222" stroke-width="0.2" textLength="15" lengthAdjust="spacingAndGlyphs" fill="#222">UHRA</text>
<text x="121.2" y="219.85" font-size="5" stroke="#222" stroke-width="0.2" textLength="18.8" lengthAdjust="spacingAndGlyphs" fill="#222">(µg/mL)</text>
</svg>
</body></html>
